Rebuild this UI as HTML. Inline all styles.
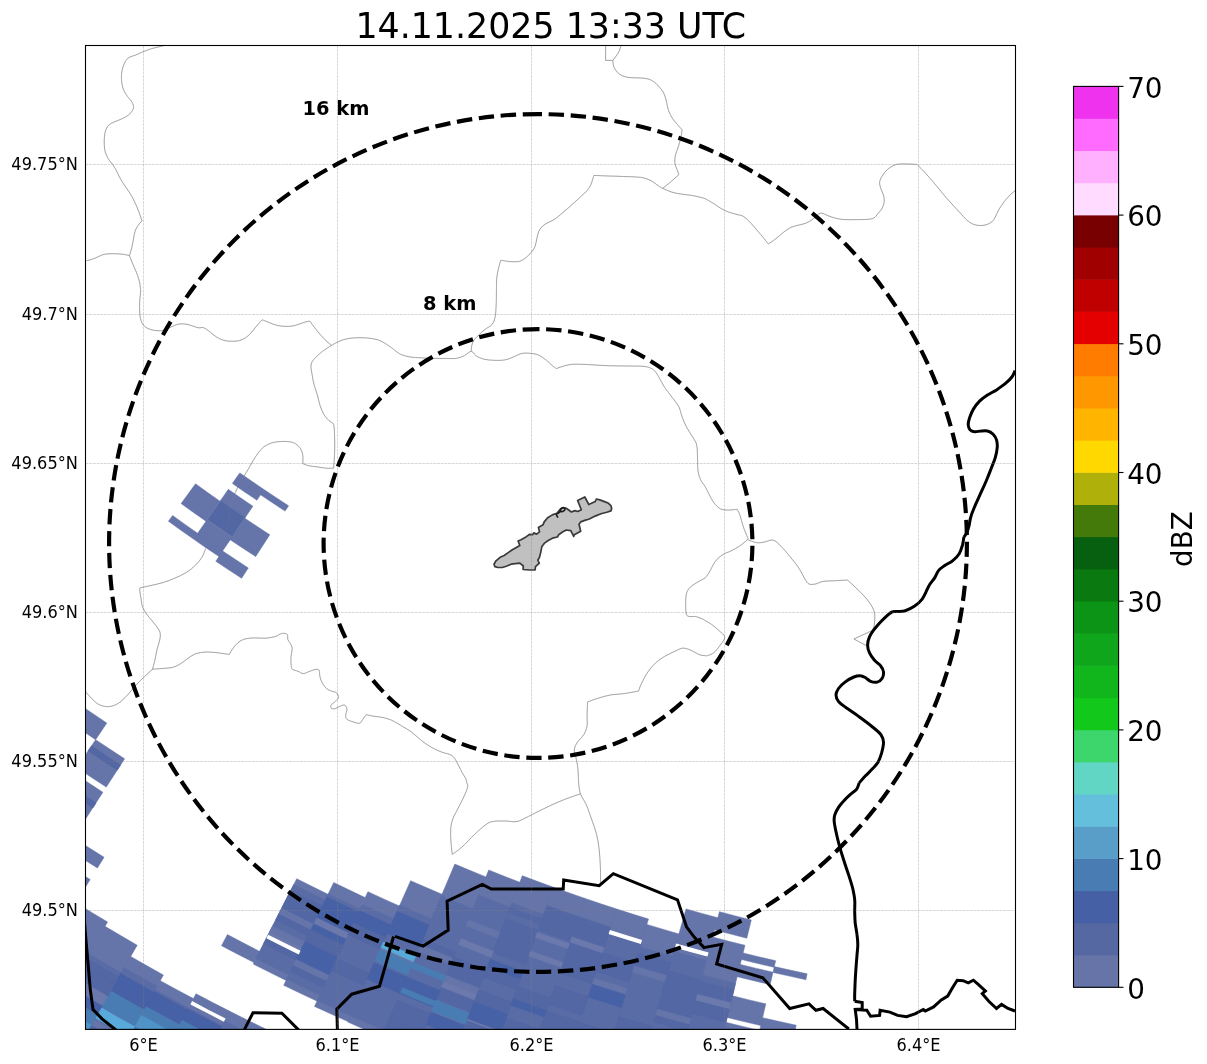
<!DOCTYPE html>
<html lang="en">
<head>
<meta charset="utf-8">
<title>14.11.2025 13:33 UTC</title>
<style>
html,body{margin:0;padding:0;background:#fff;}
body{width:1207px;height:1064px;overflow:hidden;}
svg{display:block;will-change:transform;}
text{font-family:"DejaVu Sans","Liberation Sans",sans-serif;fill:#000;}
.tk{font-size:16.67px;}
.cb{font-size:27.8px;}
.grid line{stroke:#808080;stroke-width:0.7;stroke-dasharray:2.9 0.8;opacity:.44}
.thin{fill:none;stroke:#8c8c8c;stroke-width:0.7;stroke-linejoin:round;}
.bord{fill:none;stroke:#000;stroke-width:3.0;stroke-linejoin:miter;stroke-linecap:butt;}
.ring{fill:none;stroke:#000;stroke-width:4.17;stroke-dasharray:15.39 6.66;}
.lbl{font-size:19.4px;font-weight:bold;}
</style>
</head>
<body>
<svg width="1207" height="1064" viewBox="0 0 1207 1064">
<rect x="0" y="0" width="1207" height="1064" fill="#fff"/>
<defs><clipPath id="ax"><rect x="85.5" y="45.5" width="930.0" height="983.9000000000001"/></clipPath></defs>
<g clip-path="url(#ax)">
<g class="thin" id="thin">
<path d="M163.3,45.8 C161.4,46.2 155.2,47.6 151.8,48.6 C148.3,49.6 145.6,50.8 142.8,51.9 C140.0,53.0 137.2,54.4 135.1,55.3 C132.9,56.1 131.4,56.2 129.9,57.1 C128.4,57.9 127.2,58.8 126.1,60.4 C124.9,62.0 123.8,64.5 123.0,66.8 C122.2,69.2 121.7,72.0 121.5,74.5 C121.3,77.1 121.4,79.7 121.7,82.2 C122.1,84.8 122.6,87.6 123.5,89.9 C124.5,92.3 126.1,94.5 127.4,96.4 C128.7,98.2 130.2,99.4 131.2,101.0 C132.3,102.6 133.3,104.5 133.5,106.1 C133.8,107.7 133.3,109.0 132.5,110.5 C131.7,111.9 130.4,113.5 128.7,114.9 C126.9,116.2 124.6,117.5 122.2,118.7 C119.9,119.9 116.7,120.8 114.5,121.8 C112.4,122.8 110.8,123.4 109.4,124.6 C108.0,125.9 106.9,127.3 106.1,129.2 C105.2,131.2 104.8,133.5 104.5,136.2 C104.2,138.8 104.1,142.4 104.3,145.2 C104.4,147.9 104.8,150.5 105.5,152.9 C106.3,155.2 107.3,157.2 108.6,159.3 C109.9,161.3 111.8,163.0 113.2,165.2 C114.7,167.3 115.8,169.7 117.1,172.1 C118.4,174.6 119.5,177.3 121.0,179.8 C122.5,182.4 124.4,185.0 126.1,187.5 C127.8,190.1 129.7,192.7 131.2,195.2 C132.7,197.8 133.8,200.2 135.1,202.9 C136.4,205.7 137.8,208.9 138.9,211.9 C140.1,214.9 141.5,219.4 142.0,220.9 M142.0,220.9 C141.4,221.6 139.3,223.6 138.2,225.3 C137.0,227.0 135.9,228.7 135.1,231.2 C134.3,233.7 133.8,237.4 133.3,240.2 C132.7,243.0 132.4,245.3 131.7,247.9 C131.1,250.4 129.8,254.3 129.4,255.6 M129.4,255.6 C128.4,255.4 125.8,254.6 123.5,254.3 C121.3,254.0 118.4,253.9 115.8,253.8 C113.2,253.7 110.5,253.6 108.1,253.8 C105.8,254.0 103.8,254.3 101.7,255.1 C99.6,255.8 97.4,257.3 95.3,258.1 C93.1,259.0 90.6,259.8 88.9,260.2 C87.1,260.6 85.6,260.6 85.0,260.7 M129.4,255.6 C129.9,256.9 131.4,260.5 132.5,263.3 C133.7,266.1 135.2,269.3 136.4,272.3 C137.5,275.3 138.7,278.1 139.4,281.3 C140.2,284.4 140.5,289.4 140.7,291.0 M605.6,45.8 L605.6,60.4 L612.8,60.4 M621.0,45.8 C620.6,46.9 619.8,50.3 618.4,52.7 C617.1,55.1 613.7,59.1 612.8,60.4 M612.8,60.4 C612.9,61.5 613.1,64.9 613.8,66.8 C614.5,68.8 615.7,70.5 617.1,72.0 C618.5,73.5 620.1,74.9 622.3,75.8 C624.4,76.8 627.2,77.3 630.0,77.6 C632.8,78.0 636.0,77.7 639.0,77.9 C642.0,78.1 645.4,78.2 648.0,78.9 C650.5,79.6 652.2,80.6 654.4,82.2 C656.5,83.9 659.1,86.5 660.8,88.7 C662.5,90.8 663.7,92.7 664.6,95.1 C665.6,97.4 666.1,100.2 666.7,102.8 C667.3,105.3 667.6,107.9 668.5,110.5 C669.4,113.1 670.9,115.8 672.3,118.2 C673.8,120.5 675.9,122.7 677.5,124.6 C679.1,126.5 681.3,128.9 682.1,129.7 M682.1,129.7 C681.9,131.2 681.3,135.7 680.6,138.7 C679.9,141.7 678.9,144.9 678.0,147.7 C677.1,150.5 675.9,152.9 675.4,155.4 C674.9,158.0 674.6,160.6 674.9,163.1 C675.3,165.7 676.8,168.9 677.5,170.8 C678.1,172.8 678.6,174.0 678.8,174.7 M678.8,174.7 L671.1,181.6 L662.8,188.3 M496.4,291.0 C496.5,289.0 496.4,282.5 496.7,278.7 C497.0,274.9 497.8,271.5 498.5,268.4 C499.2,265.3 500.4,261.6 500.8,260.2 M500.8,260.2 C501.8,260.4 504.7,261.0 506.7,261.2 C508.8,261.5 510.9,261.7 513.1,261.7 C515.4,261.7 517.9,261.9 520.1,261.2 C522.2,260.5 524.1,259.1 526.0,257.6 C527.8,256.2 529.6,254.3 531.1,252.5 C532.6,250.7 534.0,248.9 535.0,246.6 C535.9,244.3 536.1,241.5 536.8,238.9 C537.4,236.3 537.8,233.3 538.8,231.2 C539.8,229.0 541.2,227.5 542.7,226.0 C544.2,224.6 545.9,223.8 547.8,222.7 C549.7,221.6 552.1,221.0 554.2,219.6 C556.4,218.3 558.1,216.6 560.6,214.5 C563.2,212.4 566.6,209.4 569.6,206.8 C572.6,204.1 575.8,201.1 578.6,198.6 C581.4,196.0 584.3,193.6 586.3,191.4 C588.3,189.1 589.5,187.4 590.7,185.0 C591.9,182.5 593.0,178.1 593.5,176.5 C594.1,174.9 593.9,175.6 594.0,175.5 M594.0,175.5 C596.4,175.5 603.2,175.8 608.1,176.0 C613.1,176.1 618.8,176.3 623.6,176.5 C628.3,176.7 633.0,176.7 636.4,177.0 C639.8,177.3 641.5,177.3 644.1,178.0 C646.7,178.7 649.5,179.8 651.8,181.1 C654.2,182.4 656.4,184.5 658.2,185.7 C660.1,186.9 660.7,187.3 662.8,188.3 C665.0,189.3 668.2,191.0 671.1,191.9 C673.9,192.8 676.8,193.4 680.1,193.9 C683.3,194.5 687.1,194.7 690.3,195.2 C693.5,195.7 696.9,196.5 699.3,197.0 C701.8,197.6 704.0,198.3 705.0,198.6 M705.0,198.6 C706.3,199.3 710.1,201.4 712.7,202.9 C715.3,204.5 717.8,206.6 720.4,208.1 C723.0,209.6 725.3,210.9 728.1,211.9 C730.9,213.0 734.5,213.7 737.1,214.5 C739.7,215.3 741.2,215.0 743.5,216.5 C745.9,218.0 748.7,220.8 751.2,223.5 C753.8,226.1 756.6,229.7 758.9,232.5 C761.3,235.2 763.8,238.2 765.3,240.2 C766.9,242.1 767.9,243.4 768.4,244.0 M768.4,244.0 C769.6,243.2 773.1,240.8 775.6,238.9 C778.1,237.0 780.8,234.4 783.3,232.5 C785.9,230.5 788.2,228.6 791.0,227.3 C793.8,226.0 797.4,225.5 800.0,224.8 C802.6,224.0 804.3,223.9 806.4,223.0 C808.6,222.0 810.9,220.5 812.9,219.1 C814.8,217.7 816.5,215.5 818.0,214.5 C819.5,213.5 820.1,213.0 821.8,213.2 C823.6,213.4 825.9,214.9 828.3,215.8 C830.6,216.6 833.2,217.7 836.0,218.3 C838.8,219.0 841.5,219.4 845.0,219.6 C848.4,219.8 852.9,219.7 856.5,219.6 C860.2,219.6 863.9,219.6 866.8,219.4 C869.7,219.1 871.8,219.1 873.7,218.1 C875.6,217.1 876.9,214.9 878.3,213.2 C879.8,211.5 881.2,210.0 882.2,208.1 C883.2,206.1 884.0,203.8 884.3,201.7 C884.5,199.5 884.0,197.4 883.5,195.2 C882.9,193.1 881.6,191.0 880.9,188.8 C880.3,186.7 879.4,184.5 879.6,182.4 C879.8,180.3 880.9,178.1 882.2,176.0 C883.5,173.8 885.2,171.4 887.3,169.6 C889.5,167.7 892.5,165.9 895.0,164.9 C897.6,164.0 899.1,164.0 902.7,163.9 C906.4,163.8 914.5,164.3 916.9,164.4 M916.9,164.4 C917.9,165.5 920.5,167.8 923.3,170.8 C926.1,173.8 929.7,177.9 933.6,182.4 C937.4,186.9 942.1,192.9 946.4,197.8 C950.7,202.7 955.8,208.2 959.2,211.9 C962.7,215.6 964.6,218.1 966.9,220.1 C969.3,222.2 971.2,223.4 973.4,224.3 C975.5,225.1 977.6,225.4 979.8,225.5 C981.9,225.6 984.1,225.4 986.2,224.8 C988.3,224.1 990.6,223.0 992.1,221.7 C993.6,220.4 994.0,219.1 995.2,217.1 C996.3,215.0 997.5,211.9 999.0,209.4 C1000.5,206.8 1002.3,204.1 1004.2,201.7 C1006.1,199.2 1008.8,196.3 1010.6,194.5 C1012.4,192.7 1014.2,191.5 1015.0,190.9 M140.7,291.0 C140.6,292.7 139.9,297.8 139.7,301.3 C139.5,304.7 139.5,308.3 139.7,311.5 C139.9,314.8 140.2,318.1 141.0,320.5 C141.8,323.0 143.0,324.9 144.6,326.4 C146.2,327.9 148.2,328.8 150.5,329.5 C152.8,330.2 155.8,330.7 158.2,330.8 C160.5,330.9 162.5,330.7 164.6,330.0 C166.7,329.4 168.9,327.9 171.0,327.0 C173.2,326.0 175.3,324.9 177.4,324.4 C179.6,323.9 181.7,323.7 183.9,323.9 C186.0,324.0 187.9,324.5 190.3,325.2 C192.6,325.8 195.8,327.3 198.0,327.7 C200.2,328.2 201.7,327.1 203.6,327.7 C205.6,328.4 207.5,330.1 209.6,331.6 C211.6,333.1 213.6,335.3 216.0,336.7 C218.3,338.2 220.9,339.5 223.7,340.3 C226.5,341.1 229.7,341.4 232.7,341.3 C235.7,341.2 238.9,340.9 241.7,339.8 C244.4,338.7 247.0,336.8 249.4,334.7 C251.7,332.5 253.6,329.4 255.8,327.0 C257.9,324.5 261.1,321.0 262.2,319.8 M262.2,319.8 C263.3,320.2 266.3,321.4 268.6,322.3 C271.0,323.2 273.5,324.5 276.3,325.2 C279.1,325.8 282.3,326.4 285.3,326.4 C288.3,326.5 291.3,326.3 294.3,325.7 C297.3,325.0 300.7,323.4 303.3,322.6 C305.9,321.8 308.6,321.3 309.7,321.0 M309.7,321.0 C310.8,322.5 313.8,326.6 316.1,329.5 C318.5,332.4 321.3,335.9 323.8,338.5 C326.4,341.2 330.2,344.3 331.5,345.4 M331.5,345.4 C330.0,346.4 325.3,349.2 322.5,351.3 C319.8,353.5 316.8,356.0 314.8,358.3 C312.9,360.6 311.4,362.0 311.0,365.0 C310.6,367.9 311.8,372.5 312.3,375.7 C312.8,379.0 313.2,381.5 314.1,384.7 C314.9,387.9 316.4,391.6 317.4,395.0 C318.4,398.4 318.9,402.1 320.0,405.3 C321.0,408.5 322.3,411.7 323.8,414.3 C325.3,416.8 327.3,419.0 329.0,420.7 C330.6,422.4 332.6,421.8 333.6,424.5 C334.5,427.3 334.4,432.7 334.6,437.4 C334.8,442.1 334.8,447.7 334.6,452.8 C334.4,457.9 333.8,465.6 333.6,468.2 M333.6,468.2 C332.4,468.2 329.1,468.4 326.4,468.2 C323.7,468.0 320.4,467.3 317.4,466.9 C314.4,466.5 310.9,466.2 308.4,465.6 C306.0,465.1 303.7,463.9 302.8,463.6 M302.8,463.6 C302.8,462.2 303.1,457.8 302.8,455.4 C302.4,452.9 301.9,450.9 300.7,448.9 C299.5,447.0 297.5,445.0 295.6,443.8 C293.7,442.6 291.7,442.1 289.2,441.7 C286.6,441.4 283.2,441.3 280.2,441.5 C277.2,441.7 274.0,442.1 271.2,443.0 C268.4,444.0 265.6,445.5 263.5,447.1 C261.3,448.8 260.1,450.6 258.3,452.8 C256.6,455.0 254.9,457.7 253.2,460.5 C251.5,463.3 249.6,466.9 248.1,469.5 C246.6,472.0 245.7,473.3 244.2,475.9 C242.7,478.5 240.6,482.1 239.1,484.9 C237.6,487.7 236.5,489.8 235.2,492.6 C233.9,495.4 232.4,498.4 231.4,501.6 C230.3,504.8 229.0,508.6 228.8,511.9 C228.6,515.1 230.5,517.8 230.1,520.8 C229.7,523.8 226.9,528.3 226.2,529.8 M331.5,345.4 C332.6,344.8 335.4,343.0 338.0,341.8 C340.5,340.7 343.7,339.5 346.9,338.8 C350.2,338.1 353.8,337.9 357.2,337.7 C360.6,337.6 364.1,337.7 367.5,338.0 C370.9,338.3 374.8,338.9 377.8,339.8 C380.8,340.7 383.1,342.3 385.5,343.6 C387.8,345.0 390.3,346.9 391.9,348.0 C393.5,349.2 394.5,350.2 395.0,350.6 M496.4,291.0 C496.4,293.1 496.4,299.6 496.2,303.8 C496.0,308.1 495.8,313.3 495.2,316.7 C494.5,320.1 493.8,322.2 492.1,324.4 C490.4,326.5 487.2,327.7 484.9,329.5 C482.6,331.3 480.4,333.2 478.5,335.2 C476.5,337.1 474.5,339.1 473.3,341.1 C472.2,343.0 471.9,345.3 471.5,347.0 C471.2,348.7 471.3,350.6 471.3,351.3 M395.0,350.6 C396.1,351.3 398.9,353.6 401.4,354.7 C404.0,355.8 407.2,356.5 410.4,357.0 C413.6,357.5 417.0,357.6 420.7,357.8 C424.3,358.0 428.0,358.2 432.2,358.3 C436.5,358.4 442.3,358.5 446.4,358.5 C450.4,358.5 453.6,358.8 456.6,358.3 C459.6,357.8 461.9,356.9 464.3,355.7 C466.8,354.6 469.3,351.3 471.3,351.3 C473.2,351.3 473.8,354.4 475.9,355.7 C477.9,357.0 480.6,358.3 483.6,359.1 C486.6,359.8 490.2,360.2 493.9,360.3 C497.5,360.5 502.0,360.5 505.4,359.8 C508.9,359.2 511.6,357.6 514.4,356.5 C517.2,355.4 519.3,353.9 522.1,353.4 C524.9,352.9 528.3,353.1 531.1,353.4 C533.9,353.7 536.2,354.0 538.8,355.2 C541.4,356.4 544.3,358.6 546.5,360.3 C548.7,362.0 550.5,364.1 552.2,365.5 C553.8,366.8 555.6,368.0 556.3,368.6 M556.3,368.6 C557.9,368.0 562.7,366.2 565.8,365.5 C568.9,364.7 570.7,364.3 574.8,364.2 C578.8,364.1 584.6,364.4 590.2,364.7 C595.7,365.0 602.2,365.5 608.1,365.7 C614.1,365.9 620.6,365.9 626.1,366.0 C631.7,366.1 637.7,366.0 641.5,366.2 C645.4,366.5 647.0,366.7 649.2,367.5 C651.5,368.3 653.2,369.3 654.9,371.1 C656.6,372.9 657.9,375.6 659.5,378.3 C661.1,381.0 662.5,384.1 664.6,387.3 C666.8,390.5 670.0,394.4 672.3,397.6 C674.7,400.8 677.1,403.4 678.8,406.6 C680.4,409.8 680.8,413.4 682.1,416.8 C683.4,420.3 684.7,423.7 686.5,427.1 C688.3,430.5 691.2,434.4 692.9,437.4 C694.6,440.4 696.0,441.7 696.7,445.1 C697.5,448.5 697.3,453.6 697.5,457.9 C697.7,462.2 697.5,467.1 698.0,470.8 C698.5,474.4 699.4,477.2 700.6,479.8 C701.8,482.3 704.2,485.1 705.0,486.2 M705.0,486.2 C705.6,487.5 707.4,491.1 708.9,493.9 C710.4,496.7 712.1,500.4 714.0,502.9 C715.9,505.3 718.1,507.6 720.4,508.8 C722.8,510.0 725.3,510.0 728.1,510.1 C730.9,510.1 735.6,509.4 737.1,509.3 M737.1,509.3 C737.5,510.1 738.6,511.4 739.7,514.4 C740.7,517.4 742.2,523.5 743.5,527.3 C744.8,531.0 746.7,535.4 747.4,537.0 M205.7,548.6 C205.1,550.1 203.6,554.8 201.8,557.5 C200.1,560.3 198.0,562.8 195.4,565.2 C192.9,567.7 189.9,570.3 186.4,572.4 C183.0,574.6 178.7,576.4 174.9,578.1 C171.0,579.8 167.2,581.3 163.3,582.5 C159.5,583.7 155.6,584.4 151.8,585.3 C147.9,586.2 142.1,587.4 140.2,587.8 M140.2,587.8 C140.1,588.1 139.6,587.8 139.7,589.6 C139.8,591.4 140.5,595.6 141.0,598.6 C141.5,601.6 141.8,605.1 142.8,607.6 C143.7,610.2 145.1,611.9 146.6,614.0 C148.1,616.2 150.1,618.3 151.8,620.5 C153.5,622.6 155.5,624.7 156.9,626.9 C158.3,629.0 159.8,630.9 160.2,633.3 C160.7,635.7 160.0,638.2 159.5,641.0 C158.9,643.8 157.7,646.8 156.9,650.0 C156.1,653.2 155.6,657.1 154.9,660.3 C154.1,663.5 152.9,667.8 152.5,669.3 M152.5,669.3 C151.1,670.5 146.8,674.4 144.1,677.0 C141.4,679.5 138.9,681.9 136.4,684.7 C133.8,687.4 131.2,690.9 128.7,693.7 C126.1,696.4 123.5,699.3 121.0,701.4 C118.4,703.4 115.8,704.9 113.2,705.7 C110.7,706.6 108.1,706.8 105.5,706.5 C103.0,706.2 100.2,705.3 97.8,703.9 C95.5,702.6 93.6,700.4 91.4,698.3 C89.3,696.1 86.1,692.3 85.0,691.1 M152.5,669.3 C154.1,669.1 158.7,668.8 162.0,668.5 C165.3,668.2 169.3,668.2 172.3,667.5 C175.3,666.7 177.4,665.6 180.0,664.1 C182.6,662.6 185.2,660.2 187.7,658.5 C190.3,656.8 192.4,654.9 195.4,653.8 C198.4,652.8 202.3,652.3 205.7,652.0 C209.1,651.8 212.8,652.3 216.0,652.6 C219.2,652.9 222.7,653.5 225.0,653.8 C227.2,654.1 228.6,654.3 229.3,654.4 M229.3,654.4 C229.9,653.4 231.3,650.6 232.7,648.7 C234.1,646.8 235.9,644.4 237.8,642.8 C239.7,641.2 241.7,640.0 244.2,639.2 C246.8,638.4 249.8,638.1 253.2,637.9 C256.6,637.8 261.1,638.4 264.8,638.2 C268.4,638.0 272.5,637.3 275.0,636.6 C277.6,636.0 278.7,634.6 280.2,634.1 C281.7,633.5 282.8,633.2 284.0,633.3 C285.2,633.4 286.7,633.5 287.4,634.6 C288.0,635.7 287.4,638.2 287.9,639.7 C288.4,641.2 289.7,642.1 290.4,643.6 C291.2,645.1 292.2,646.6 292.2,648.7 C292.3,650.9 291.1,653.6 291.0,656.4 C290.8,659.2 291.0,663.3 291.2,665.4 C291.5,667.5 291.3,668.3 292.5,669.3 C293.7,670.2 296.4,670.6 298.1,671.3 C299.9,672.0 301.4,673.6 303.3,673.6 C305.2,673.6 307.6,672.0 309.7,671.3 C311.8,670.6 314.5,669.4 316.1,669.3 C317.7,669.1 318.6,669.3 319.2,670.5 C319.8,671.8 319.4,674.8 320.0,677.0 C320.5,679.1 321.5,681.5 322.5,683.4 C323.6,685.3 324.9,687.2 326.4,688.5 C327.9,689.8 329.8,690.4 331.5,691.1 C333.2,691.8 335.5,691.8 336.7,692.9 C337.8,694.0 338.7,696.1 338.5,697.5 C338.3,698.9 336.6,700.1 335.4,701.4 C334.1,702.6 331.7,704.0 331.0,705.2 C330.4,706.4 330.8,708.0 331.5,708.5 C332.3,709.1 333.9,709.0 335.4,708.5 C336.9,708.1 338.9,706.5 340.5,706.0 C342.1,705.4 343.8,704.7 344.9,705.2 C346.0,705.7 346.8,707.3 346.9,709.1 C347.1,710.8 345.7,713.8 345.7,715.5 C345.7,717.2 345.7,718.3 346.9,719.3 C348.2,720.4 351.2,721.3 353.4,721.9 C355.5,722.5 358.1,723.8 359.8,723.2 C361.5,722.5 362.6,719.5 363.6,718.0 C364.7,716.6 365.8,715.3 366.2,714.7 M366.2,714.7 C367.3,714.9 369.8,715.5 372.6,716.0 C375.4,716.5 379.9,716.9 382.9,717.5 C385.9,718.2 388.6,719.1 390.6,719.8 C392.6,720.6 394.2,721.6 395.0,721.9 M395.0,721.9 C396.3,722.7 399.9,724.8 402.7,726.5 C405.5,728.2 408.7,729.9 411.7,732.2 C414.7,734.4 417.5,737.4 420.7,739.9 C423.9,742.4 427.5,745.1 431.0,747.1 C434.4,749.1 437.8,750.6 441.2,751.9 C444.6,753.3 448.9,753.7 451.5,755.3 C454.1,756.9 454.9,758.9 456.6,761.7 C458.3,764.5 460.3,769.2 461.8,772.0 C463.3,774.8 464.8,776.6 465.6,778.4 C466.5,780.2 466.7,782.2 466.9,783.0 M578.6,783.0 C578.5,780.5 578.3,772.3 577.8,768.1 C577.4,763.9 576.6,760.8 576.0,757.9 C575.4,754.9 574.0,752.7 574.3,750.1 C574.5,747.6 575.7,745.0 577.3,742.4 C578.9,739.9 582.1,737.5 583.8,734.7 C585.4,732.0 586.5,729.2 587.1,725.8 C587.6,722.3 587.0,718.2 587.1,714.2 C587.2,710.2 587.5,703.9 587.6,701.9 M587.6,701.9 C589.3,701.3 594.0,699.4 597.9,698.3 C601.7,697.1 606.4,695.7 610.7,694.9 C615.0,694.2 618.9,694.3 623.6,693.7 C628.2,693.0 636.0,691.5 638.5,691.1 M638.5,691.1 C639.0,689.8 639.9,686.6 641.5,683.4 C643.1,680.2 645.6,675.2 648.0,671.8 C650.3,668.4 652.9,665.4 655.7,662.8 C658.4,660.3 661.4,658.3 664.6,656.4 C667.9,654.5 671.9,652.6 674.9,651.3 C677.9,649.9 680.1,648.4 682.6,648.2 C685.2,648.0 687.5,648.9 690.3,650.0 C693.1,651.1 696.9,653.7 699.3,654.6 C701.8,655.6 704.0,655.5 705.0,655.6 M705.0,578.1 C703.8,578.7 700.5,580.4 698.0,581.9 C695.6,583.4 692.3,585.2 690.3,587.1 C688.4,589.0 687.2,590.9 686.5,593.5 C685.7,596.1 685.8,599.5 685.7,602.5 C685.6,605.5 685.6,609.2 686.0,611.5 C686.3,613.7 686.2,615.2 687.8,616.1 C689.3,617.0 693.1,616.2 695.5,616.6 C697.8,617.0 700.3,618.0 701.9,618.7 C703.5,619.3 704.5,620.2 705.0,620.5 M747.4,537.0 C747.4,537.4 748.7,538.1 747.4,539.6 C746.1,541.1 742.5,544.1 739.7,546.0 C736.9,547.9 733.5,549.7 730.7,551.1 C727.9,552.5 725.5,552.8 723.0,554.5 C720.4,556.2 717.6,558.3 715.3,561.4 C712.9,564.5 710.6,570.2 708.9,573.0 C707.1,575.7 705.6,577.2 705.0,578.1 M747.4,539.6 C748.9,540.1 753.6,542.2 756.4,542.6 C759.1,543.1 761.3,542.6 764.1,542.1 C766.8,541.7 770.3,539.4 773.1,540.1 C775.8,540.7 778.0,543.3 780.8,546.0 C783.5,548.7 786.7,552.6 789.7,556.3 C792.7,559.9 796.2,564.0 798.7,567.8 C801.3,571.7 803.4,576.7 805.2,579.4 C806.9,582.1 807.3,583.2 809.0,584.0 C810.7,584.8 813.1,584.4 815.4,584.0 C817.8,583.6 819.7,582.0 823.1,581.4 C826.6,580.9 831.9,580.9 836.0,580.7 C840.0,580.4 845.6,580.2 847.5,580.1 M847.5,580.1 C848.8,581.3 852.4,584.4 855.2,587.1 C858.0,589.7 861.7,593.2 864.2,596.1 C866.8,598.9 868.9,601.5 870.6,604.3 C872.4,607.1 873.8,609.6 874.5,612.8 C875.1,615.9 874.7,620.2 874.5,623.0 C874.3,625.9 873.4,628.8 873.2,630.0 M873.2,630.0 L853.9,639.0 L867.3,646.1 M705.0,620.5 C706.1,621.1 709.1,622.6 711.4,624.3 C713.8,626.0 716.9,628.6 719.1,630.7 C721.3,632.9 724.6,634.8 724.8,637.2 C725.0,639.5 722.2,642.3 720.4,644.9 C718.6,647.4 716.1,650.8 714.0,652.6 C711.8,654.4 709.1,655.1 707.6,655.6 C706.1,656.2 705.4,655.6 705.0,655.6 M466.9,783.0 C467.0,783.6 468.1,784.7 467.7,786.9 C467.2,789.0 466.0,792.2 464.3,795.8 C462.7,799.5 459.8,804.8 457.9,808.7 C456.0,812.5 454.0,815.5 452.8,819.0 C451.6,822.4 451.0,825.4 450.7,829.2 C450.4,833.1 450.7,837.9 451.0,842.1 C451.2,846.3 452.1,852.3 452.3,854.4 M452.3,854.4 C453.9,853.2 458.0,850.5 461.8,847.2 C465.5,843.9 470.8,838.0 474.6,834.4 C478.5,830.7 481.9,827.5 484.9,825.4 C487.9,823.2 489.2,822.2 492.6,821.5 C496.0,820.8 501.4,821.0 505.4,821.0 C509.5,821.0 513.1,822.3 517.0,821.5 C520.8,820.8 524.0,818.5 528.5,816.4 C533.0,814.2 538.4,811.3 543.9,808.7 C549.5,806.0 555.8,802.9 561.9,800.5 C568.0,798.0 577.3,794.9 580.4,793.8 M578.6,783.0 C578.9,784.8 579.1,790.1 580.4,793.8 C581.7,797.4 584.5,800.6 586.3,804.8 C588.2,809.0 589.7,814.0 591.5,819.0 C593.2,823.9 595.3,829.2 596.6,834.4 C597.9,839.5 598.5,844.2 599.2,849.8 C599.8,855.3 600.2,862.0 600.4,867.7 C600.7,873.5 600.4,881.7 600.4,884.4"/>
</g>
<g id="radar">
<path fill="#6574a9" stroke="#6574a9" stroke-width="0.5" d="M288.6,505.8L276.3,497.7L264.0,489.6L251.9,481.3L239.8,472.9L236.1,478.1L248.3,486.5L260.5,494.8L272.8,503.0L285.1,511.1ZM260.5,494.8L248.3,486.5L236.1,478.1L232.4,483.4L244.6,491.9L256.9,500.2ZM252.9,506.2L240.5,497.8L228.3,489.3L220.6,500.4L232.9,508.9L245.3,517.4Z"/>
<path fill="#5267a4" stroke="#5267a4" stroke-width="0.5" d="M245.3,517.4L232.9,508.9L220.6,500.4L207.1,519.7L219.6,528.3L232.2,536.9Z"/>
<path fill="#6574a9" stroke="#6574a9" stroke-width="0.5" d="M220.0,501.2L207.7,492.6L195.5,483.8L181.1,503.6L193.5,512.5L206.0,521.3ZM269.8,534.7L257.2,526.5L244.8,518.2L230.2,539.8L242.9,548.2L255.7,556.6ZM232.2,536.9L219.6,528.3L207.1,519.7L197.6,533.3L210.2,542.0L222.9,550.6ZM222.9,550.6L210.2,542.0L197.6,533.3L185.0,524.4L172.6,515.4L168.4,521.2L180.9,530.2L193.5,539.1L206.2,547.9L219.0,556.5ZM248.3,567.9L235.5,559.5L222.7,551.0L215.8,561.3L228.6,569.8L241.6,578.3ZM106.8,723.1L92.6,713.4L78.5,703.7L67.0,720.1L81.3,729.9L95.6,739.7ZM124.6,758.8L110.1,749.3L95.6,739.7L76.8,767.6L91.5,777.4L106.3,787.1Z"/>
<path fill="#5267a4" stroke="#5267a4" stroke-width="0.5" d="M120.5,765.1L105.9,755.6L91.5,745.9L88.1,750.9L102.6,760.6L117.2,770.1Z"/>
<path fill="#6574a9" stroke="#6574a9" stroke-width="0.5" d="M102.9,792.3L88.1,782.6L73.4,772.8L55.9,798.7L70.8,808.7L85.9,818.5Z"/>
<path fill="#5267a4" stroke="#5267a4" stroke-width="0.5" d="M96.0,802.9L81.1,793.1L66.3,783.2L63.0,788.2L77.8,798.1L92.8,807.9Z"/>
<path fill="#6574a9" stroke="#6574a9" stroke-width="0.5" d="M104.1,857.3L88.7,847.6L73.4,837.8L66.6,848.3L81.9,858.2L97.4,868.0ZM90.2,879.5L74.6,869.7L59.2,859.8L53.4,868.6L68.9,878.6L84.6,888.5ZM75.8,902.6L60.0,892.6L44.4,882.6L-99.8,1104.9L-82.2,1116.3L-64.4,1127.4ZM107.6,922.0L91.7,912.4L75.8,902.6L-64.4,1127.4L-46.6,1138.4L-28.7,1149.3ZM137.2,945.2L121.1,935.8L105.0,926.3L-28.7,1149.3L-10.7,1160.0L7.4,1170.5ZM163.4,975.0L147.0,965.8L130.7,956.5L7.4,1170.5L25.6,1180.9L43.9,1191.1ZM193.4,998.6L176.8,989.7L160.3,980.7L43.9,1191.1L62.3,1201.2L80.7,1211.1ZM229.4,1011.1L212.7,1002.5L196.0,993.8L80.7,1211.1L99.3,1220.8L117.9,1230.4ZM263.0,1027.8L246.2,1019.5L229.4,1011.1L117.9,1230.4L136.6,1239.8L155.4,1249.0ZM297.0,1044.0L280.0,1036.0L263.0,1027.8L155.4,1249.0L174.3,1258.1L193.2,1267.0ZM328.0,894.3L312.3,886.6L296.7,878.7L253.3,964.1L269.6,972.3L286.1,980.4ZM365.1,897.6L349.4,890.1L333.7,882.6L283.7,985.3L300.3,993.3L316.9,1001.1ZM399.4,906.0L383.6,898.9L367.9,891.7L314.5,1006.4L331.2,1014.1L348.1,1021.6ZM442.0,894.3L426.3,887.6L410.6,880.7L347.9,1022.1L364.7,1029.5L381.7,1036.7ZM485.9,876.9L470.3,870.6L454.8,864.1L269.8,1301.0L289.1,1309.1L308.5,1317.0ZM519.8,882.2L504.2,876.2L488.7,870.0L308.5,1317.0L327.9,1324.8L347.5,1332.3ZM553.6,887.3L537.9,881.6L522.3,875.7L347.5,1332.3L367.1,1339.7L386.7,1347.0ZM585.0,898.4L569.3,892.9L553.6,887.3L386.7,1347.0L406.4,1354.0L426.2,1360.9ZM616.7,909.0L600.8,903.8L585.0,898.4L426.2,1360.9L446.1,1367.6L466.0,1374.2ZM648.5,919.0L632.5,914.1L616.7,909.0L466.0,1374.2L485.9,1380.5L505.9,1386.7ZM678.9,933.9L662.8,929.2L646.8,924.4L505.9,1386.7L526.0,1392.8L546.1,1398.6ZM717.8,917.7L701.9,913.4L686.0,908.9L546.1,1398.6L566.2,1404.3L586.5,1409.8ZM259.7,951.4L243.5,943.0L227.4,934.6L221.5,945.7L237.7,954.2L254.0,962.6ZM751.3,919.9L735.4,915.9L719.4,911.7L714.6,929.9L730.7,934.1L746.8,938.2ZM745.0,945.3L728.8,941.3L712.7,937.0L586.5,1409.8L606.7,1415.1L627.0,1420.2ZM775.7,960.7L759.4,956.9L743.1,952.9L741.5,959.5L757.8,963.5L774.1,967.3ZM773.0,972.2L756.6,968.4L740.3,964.4L737.2,976.7L753.7,980.7L770.2,984.6ZM765.8,1003.8L749.1,999.9L732.4,995.8L727.1,1017.5L743.9,1021.6L760.8,1025.5ZM759.6,1030.4L742.7,1026.4L725.9,1022.3L627.0,1420.2L647.4,1425.2L667.8,1430.0ZM807.1,973.8L790.7,970.2L774.3,966.6L773.0,972.4L789.4,976.1L805.9,979.7ZM796.2,1025.2L779.4,1021.5L762.6,1017.7L667.8,1430.0L688.2,1434.6L708.7,1439.0Z"/>
<path fill="#5a6ca6" stroke="#5a6ca6" stroke-width="0.5" d="M325.2,900.1L309.4,892.4L293.7,884.5L256.1,958.5L272.5,966.7L288.9,974.8ZM359.8,908.9L344.0,901.4L328.2,893.8L286.7,979.3L303.2,987.2L319.8,995.0ZM393.7,918.8L377.8,911.6L361.9,904.4L317.2,1000.5L333.9,1008.1L350.7,1015.7ZM431.6,918.9L415.7,912.1L399.8,905.1L350.7,1015.7L367.5,1023.1L384.4,1030.3ZM473.0,908.9L457.1,902.5L441.3,895.9L269.8,1301.0L289.1,1309.1L308.5,1317.0ZM510.2,907.4L494.3,901.3L478.6,895.0L308.5,1317.0L327.9,1324.8L347.5,1332.3ZM543.7,914.6L527.8,908.7L511.9,902.8L347.5,1332.3L367.1,1339.7L386.7,1347.0ZM578.8,916.4L562.9,910.9L547.1,905.2L386.7,1347.0L406.4,1354.0L426.2,1360.9ZM610.8,927.1L594.8,921.8L578.8,916.4L426.2,1360.9L446.1,1367.6L466.0,1374.2ZM640.9,943.9L624.7,938.9L608.6,933.7L466.0,1374.2L485.9,1380.5L505.9,1386.7ZM672.5,956.3L656.2,951.6L640.0,946.7L505.9,1386.7L526.0,1392.8L546.1,1398.6ZM706.4,960.5L690.1,956.1L673.9,951.5L546.1,1398.6L566.2,1404.3L586.5,1409.8ZM735.5,983.5L719.0,979.3L702.5,975.0L586.5,1409.8L606.7,1415.1L627.0,1420.2ZM758.5,1035.3L741.6,1031.3L724.7,1027.2L627.0,1420.2L647.4,1425.2L667.8,1430.0ZM88.6,953.7L72.3,943.9L56.2,934.0L-64.4,1127.4L-46.6,1138.4L-28.7,1149.3ZM121.2,973.0L104.9,963.4L88.6,953.7L-28.7,1149.3L-10.7,1160.0L7.4,1170.5ZM157.2,986.3L140.7,977.1L124.2,967.8L7.4,1170.5L25.6,1180.9L43.9,1191.1ZM188.5,1007.9L171.8,998.9L155.2,989.8L43.9,1191.1L62.3,1201.2L80.7,1211.1ZM222.1,1025.3L205.3,1016.7L188.5,1007.9L80.7,1211.1L99.3,1220.8L117.9,1230.4ZM292.3,1054.0L275.2,1045.9L258.2,1037.7L241.3,1029.4L224.4,1020.9L117.9,1230.4L136.6,1239.8L155.4,1249.0L174.3,1258.1L193.2,1267.0Z"/>
<path fill="#5267a4" stroke="#5267a4" stroke-width="0.5" d="M322.3,906.1L306.5,898.3L290.7,890.4L284.7,902.3L300.5,910.3L316.4,918.1ZM316.4,918.1L300.5,910.3L284.7,902.3L281.7,908.2L297.6,916.2L313.5,924.1Z"/>
<path fill="#6574a9" stroke="#6574a9" stroke-width="0.5" d="M313.5,924.1L297.6,916.2L281.7,908.2L278.7,914.1L294.6,922.2L310.6,930.0Z"/>
<path fill="#5267a4" stroke="#5267a4" stroke-width="0.5" d="M310.6,930.0L294.6,922.2L278.7,914.1L275.7,920.1L291.6,928.1L307.7,936.0Z"/>
<path fill="#6574a9" stroke="#6574a9" stroke-width="0.5" d="M304.8,942.0L288.7,934.1L272.6,926.0L269.6,931.9L285.7,940.0L301.9,948.0Z"/>
<path fill="#6b79ad" stroke="#6b79ad" stroke-width="0.5" d="M301.9,948.0L285.7,940.0L269.6,931.9L266.6,937.9L282.8,946.0L299.0,954.0Z"/>
<path fill="#5267a4" stroke="#5267a4" stroke-width="0.5" d="M299.0,954.0L282.8,946.0L266.6,937.9L263.6,943.8L279.8,951.9L296.1,959.9Z"/>
<path fill="#4661a5" stroke="#4661a5" stroke-width="0.5" d="M354.2,920.9L338.3,913.4L322.4,905.8L316.6,917.8L332.6,925.5L348.6,933.0Z"/>
<path fill="#6b79ad" stroke="#6b79ad" stroke-width="0.5" d="M348.6,933.0L332.6,925.5L316.6,917.8L313.7,923.7L329.7,931.5L345.8,939.0Z"/>
<path fill="#4661a5" stroke="#4661a5" stroke-width="0.5" d="M345.8,939.0L329.7,931.5L313.7,923.7L310.8,929.7L326.9,937.5L343.0,945.1Z"/>
<path fill="#5267a4" stroke="#5267a4" stroke-width="0.5" d="M343.0,945.1L326.9,937.5L310.8,929.7L305.0,941.7L321.1,949.5L337.4,957.1Z"/>
<path fill="#4661a5" stroke="#4661a5" stroke-width="0.5" d="M337.4,957.1L321.1,949.5L305.0,941.7L299.1,953.6L315.4,961.5L331.8,969.2ZM331.8,969.2L315.4,961.5L299.1,953.6L296.2,959.6L312.6,967.5L329.0,975.2Z"/>
<path fill="#6574a9" stroke="#6574a9" stroke-width="0.5" d="M329.0,975.2L312.6,967.5L296.2,959.6L293.3,965.6L309.7,973.5L326.2,981.2Z"/>
<path fill="#5267a4" stroke="#5267a4" stroke-width="0.5" d="M326.2,981.2L309.7,973.5L293.3,965.6L290.4,971.6L306.9,979.5L323.4,987.3Z"/>
<path fill="#4661a5" stroke="#4661a5" stroke-width="0.5" d="M391.0,924.9L375.0,917.7L359.1,910.4L356.3,916.4L372.3,923.8L388.3,931.0Z"/>
<path fill="#5267a4" stroke="#5267a4" stroke-width="0.5" d="M388.3,931.0L372.3,923.8L356.3,916.4L347.9,934.5L364.0,941.9L380.2,949.2ZM369.4,973.5L353.0,966.1L336.7,958.6L331.1,970.7L347.5,978.2L364.0,985.7Z"/>
<path fill="#4661a5" stroke="#4661a5" stroke-width="0.5" d="M429.0,925.0L413.0,918.2L397.1,911.2L391.7,923.3L407.7,930.4L423.8,937.2Z"/>
<path fill="#5267a4" stroke="#5267a4" stroke-width="0.5" d="M416.0,955.6L399.8,948.7L383.6,941.6L380.9,947.6L397.1,954.8L413.4,961.7Z"/>
<path fill="#6574a9" stroke="#6574a9" stroke-width="0.5" d="M413.4,961.7L397.1,954.8L380.9,947.6L378.2,953.7L394.5,960.9L410.8,967.9ZM403.1,986.2L386.6,979.2L370.1,971.9L367.4,978.0L383.9,985.3L400.5,992.4Z"/>
<path fill="#5267a4" stroke="#5267a4" stroke-width="0.5" d="M455.6,952.1L439.3,945.5L423.2,938.7L420.6,944.8L436.8,951.6L453.1,958.3Z"/>
<path fill="#6574a9" stroke="#6574a9" stroke-width="0.5" d="M453.1,958.3L436.8,951.6L420.6,944.8L418.0,951.0L434.3,957.8L450.6,964.4Z"/>
<path fill="#5267a4" stroke="#5267a4" stroke-width="0.5" d="M430.7,1013.8L413.9,1006.9L397.3,1000.0L389.5,1018.3L406.3,1025.4L423.2,1032.3ZM423.2,1032.3L406.3,1025.4L389.5,1018.3L386.9,1024.5L403.8,1031.5L420.8,1038.4ZM420.8,1038.4L403.8,1031.5L386.9,1024.5L381.7,1036.7L398.7,1043.8L415.8,1050.8ZM408.3,1069.3L391.1,1062.3L373.9,1055.1L366.1,1073.4L383.5,1080.7L400.9,1087.8Z"/>
<path fill="#6574a9" stroke="#6574a9" stroke-width="0.5" d="M400.9,1087.8L383.5,1080.7L366.1,1073.4L363.6,1079.6L380.9,1086.8L398.4,1094.0Z"/>
<path fill="#4661a5" stroke="#4661a5" stroke-width="0.5" d="M398.4,1094.0L380.9,1086.8L363.6,1079.6L361.0,1085.7L378.4,1093.0L395.9,1100.1Z"/>
<path fill="#5267a4" stroke="#5267a4" stroke-width="0.5" d="M388.4,1118.6L370.8,1111.4L353.2,1104.1L345.4,1122.4L363.2,1129.9L381.0,1137.1Z"/>
<path fill="#6b79ad" stroke="#6b79ad" stroke-width="0.5" d="M371.0,1161.8L353.0,1154.4L335.0,1146.9L332.4,1153.0L350.5,1160.6L368.6,1168.0Z"/>
<path fill="#5267a4" stroke="#5267a4" stroke-width="0.5" d="M368.6,1168.0L350.5,1160.6L332.4,1153.0L327.2,1165.3L345.4,1172.9L363.6,1180.3Z"/>
<path fill="#6574a9" stroke="#6574a9" stroke-width="0.5" d="M363.6,1180.3L345.4,1172.9L327.2,1165.3L324.7,1171.4L342.8,1179.0L361.1,1186.5Z"/>
<path fill="#5267a4" stroke="#5267a4" stroke-width="0.5" d="M361.1,1186.5L342.8,1179.0L324.7,1171.4L319.5,1183.7L337.8,1191.3L356.1,1198.8Z"/>
<path fill="#6574a9" stroke="#6574a9" stroke-width="0.5" d="M356.1,1198.8L337.8,1191.3L319.5,1183.7L316.9,1189.8L335.2,1197.5L353.6,1205.0Z"/>
<path fill="#5267a4" stroke="#5267a4" stroke-width="0.5" d="M353.6,1205.0L335.2,1197.5L316.9,1189.8L311.7,1202.0L330.1,1209.8L348.7,1217.3Z"/>
<path fill="#6574a9" stroke="#6574a9" stroke-width="0.5" d="M500.6,932.3L484.6,926.0L468.6,919.7L466.1,925.8L482.2,932.2L498.3,938.5Z"/>
<path fill="#5267a4" stroke="#5267a4" stroke-width="0.5" d="M486.4,969.5L470.0,963.2L453.7,956.7L446.2,975.2L462.7,981.7L479.2,988.2Z"/>
<path fill="#6574a9" stroke="#6574a9" stroke-width="0.5" d="M479.2,988.2L462.7,981.7L446.2,975.2L443.8,981.4L460.3,987.9L476.9,994.4Z"/>
<path fill="#6b79ad" stroke="#6b79ad" stroke-width="0.5" d="M476.9,994.4L460.3,987.9L443.8,981.4L441.3,987.5L457.9,994.1L474.5,1000.6Z"/>
<path fill="#5267a4" stroke="#5267a4" stroke-width="0.5" d="M474.5,1000.6L457.9,994.1L441.3,987.5L436.3,999.9L453.0,1006.5L469.7,1013.0Z"/>
<path fill="#6574a9" stroke="#6574a9" stroke-width="0.5" d="M469.7,1013.0L453.0,1006.5L436.3,999.9L433.8,1006.0L450.6,1012.7L467.4,1019.2ZM467.4,1019.2L450.6,1012.7L433.8,1006.0L431.3,1012.2L448.1,1018.9L465.0,1025.4Z"/>
<path fill="#4661a5" stroke="#4661a5" stroke-width="0.5" d="M465.0,1025.4L448.1,1018.9L431.3,1012.2L426.4,1024.5L443.3,1031.3L460.2,1037.8Z"/>
<path fill="#5267a4" stroke="#5267a4" stroke-width="0.5" d="M450.7,1062.7L433.5,1056.0L416.4,1049.2L411.4,1061.5L428.7,1068.4L446.0,1075.1ZM438.8,1093.7L421.4,1087.0L404.0,1080.0L401.5,1086.2L418.9,1093.2L436.4,1099.9Z"/>
<path fill="#6574a9" stroke="#6574a9" stroke-width="0.5" d="M436.4,1099.9L418.9,1093.2L401.5,1086.2L399.0,1092.4L416.5,1099.3L434.1,1106.2Z"/>
<path fill="#5267a4" stroke="#5267a4" stroke-width="0.5" d="M429.3,1118.6L411.7,1111.7L394.0,1104.7L391.6,1110.9L409.2,1117.9L426.9,1124.8Z"/>
<path fill="#6574a9" stroke="#6574a9" stroke-width="0.5" d="M426.9,1124.8L409.2,1117.9L391.6,1110.9L389.1,1117.1L406.8,1124.1L424.6,1131.0Z"/>
<path fill="#4661a5" stroke="#4661a5" stroke-width="0.5" d="M417.4,1149.6L399.5,1142.7L381.6,1135.6L379.1,1141.7L397.1,1148.9L415.1,1155.8Z"/>
<path fill="#5267a4" stroke="#5267a4" stroke-width="0.5" d="M407.9,1174.5L389.8,1167.4L371.7,1160.2L369.2,1166.4L387.3,1173.6L405.5,1180.7Z"/>
<path fill="#4661a5" stroke="#4661a5" stroke-width="0.5" d="M393.7,1211.7L375.2,1204.6L356.8,1197.2L354.3,1203.4L372.7,1210.8L391.3,1217.9Z"/>
<path fill="#5267a4" stroke="#5267a4" stroke-width="0.5" d="M391.3,1217.9L372.7,1210.8L354.3,1203.4L349.3,1215.7L367.9,1223.1L386.5,1230.4Z"/>
<path fill="#4661a5" stroke="#4661a5" stroke-width="0.5" d="M386.5,1230.4L367.9,1223.1L349.3,1215.7L344.3,1228.1L363.0,1235.5L381.8,1242.8Z"/>
<path fill="#5267a4" stroke="#5267a4" stroke-width="0.5" d="M534.6,939.6L518.5,933.7L502.4,927.6L495.3,946.2L511.5,952.4L527.8,958.3ZM527.8,958.3L511.5,952.4L495.3,946.2L492.9,952.4L509.2,958.6L525.5,964.6ZM521.0,977.1L504.5,971.0L488.2,964.9L483.4,977.3L499.9,983.5L516.4,989.6ZM511.9,1002.1L495.3,996.0L478.7,989.7L473.9,1002.1L490.6,1008.4L507.4,1014.6Z"/>
<path fill="#6b79ad" stroke="#6b79ad" stroke-width="0.5" d="M502.8,1027.1L486.0,1020.9L469.1,1014.5L466.8,1020.7L483.6,1027.1L500.6,1033.3Z"/>
<path fill="#5267a4" stroke="#5267a4" stroke-width="0.5" d="M500.6,1033.3L483.6,1027.1L466.8,1020.7L462.0,1033.2L479.0,1039.6L496.0,1045.9ZM496.0,1045.9L479.0,1039.6L462.0,1033.2L459.6,1039.4L476.7,1045.8L493.8,1052.1ZM493.8,1052.1L476.7,1045.8L459.6,1039.4L454.9,1051.8L472.0,1058.3L489.2,1064.6Z"/>
<path fill="#6574a9" stroke="#6574a9" stroke-width="0.5" d="M464.3,1133.4L446.5,1126.8L428.7,1120.1L426.3,1126.3L444.1,1133.0L462.0,1139.6Z"/>
<path fill="#5267a4" stroke="#5267a4" stroke-width="0.5" d="M457.5,1152.1L439.5,1145.5L421.6,1138.7L419.2,1145.0L437.2,1151.7L455.2,1158.4Z"/>
<path fill="#6574a9" stroke="#6574a9" stroke-width="0.5" d="M450.6,1170.9L432.5,1164.2L414.5,1157.4L412.1,1163.6L430.2,1170.4L448.4,1177.1Z"/>
<path fill="#4661a5" stroke="#4661a5" stroke-width="0.5" d="M430.2,1227.1L411.6,1220.3L393.1,1213.3L390.7,1219.5L409.3,1226.5L428.0,1233.4Z"/>
<path fill="#6574a9" stroke="#6574a9" stroke-width="0.5" d="M428.0,1233.4L409.3,1226.5L390.7,1219.5L388.3,1225.7L407.0,1232.7L425.7,1239.6Z"/>
<path fill="#4661a5" stroke="#4661a5" stroke-width="0.5" d="M423.4,1245.9L404.6,1239.0L385.9,1231.9L383.5,1238.1L402.3,1245.2L421.1,1252.1Z"/>
<path fill="#5267a4" stroke="#5267a4" stroke-width="0.5" d="M421.1,1252.1L402.3,1245.2L383.5,1238.1L378.8,1250.5L397.7,1257.7L416.6,1264.6Z"/>
<path fill="#6b79ad" stroke="#6b79ad" stroke-width="0.5" d="M414.3,1270.9L395.3,1263.9L376.4,1256.7L374.0,1263.0L393.0,1270.1L412.1,1277.1Z"/>
<path fill="#4661a5" stroke="#4661a5" stroke-width="0.5" d="M412.1,1277.1L393.0,1270.1L374.0,1263.0L369.3,1275.4L388.4,1282.6L407.5,1289.6Z"/>
<path fill="#5267a4" stroke="#5267a4" stroke-width="0.5" d="M576.7,922.7L560.7,917.1L544.8,911.4L538.0,930.2L554.1,935.9L570.2,941.6ZM550.8,998.2L534.2,992.4L517.6,986.4L513.0,998.9L529.7,1004.9L546.5,1010.7Z"/>
<path fill="#4661a5" stroke="#4661a5" stroke-width="0.5" d="M546.5,1010.7L529.7,1004.9L513.0,998.9L510.8,1005.2L527.5,1011.2L544.3,1017.0Z"/>
<path fill="#5267a4" stroke="#5267a4" stroke-width="0.5" d="M540.0,1029.6L523.1,1023.7L506.2,1017.7L499.4,1036.5L516.4,1042.5L533.5,1048.5Z"/>
<path fill="#4661a5" stroke="#4661a5" stroke-width="0.5" d="M531.3,1054.8L514.2,1048.8L497.2,1042.7L492.6,1055.2L509.8,1061.4L527.0,1067.3ZM520.5,1086.2L503.2,1080.2L485.8,1074.0L483.6,1080.2L500.9,1086.4L518.4,1092.5Z"/>
<path fill="#5267a4" stroke="#5267a4" stroke-width="0.5" d="M516.2,1098.8L498.7,1092.7L481.3,1086.5L476.7,1099.0L494.3,1105.2L511.9,1111.4Z"/>
<path fill="#6b79ad" stroke="#6b79ad" stroke-width="0.5" d="M511.9,1111.4L494.3,1105.2L476.7,1099.0L474.5,1105.2L492.1,1111.5L509.7,1117.7Z"/>
<path fill="#5267a4" stroke="#5267a4" stroke-width="0.5" d="M509.7,1117.7L492.1,1111.5L474.5,1105.2L472.2,1111.5L489.9,1117.8L507.6,1124.0ZM505.4,1130.2L487.7,1124.1L469.9,1117.7L465.4,1130.2L483.2,1136.6L501.1,1142.8Z"/>
<path fill="#4661a5" stroke="#4661a5" stroke-width="0.5" d="M496.8,1155.4L478.8,1149.1L460.9,1142.7L456.3,1155.2L474.4,1161.7L492.5,1168.0ZM492.5,1168.0L474.4,1161.7L456.3,1155.2L454.1,1161.5L472.2,1168.0L490.3,1174.3Z"/>
<path fill="#5267a4" stroke="#5267a4" stroke-width="0.5" d="M481.7,1199.4L463.3,1193.0L445.0,1186.5L438.2,1205.2L456.7,1211.8L475.2,1218.3ZM475.2,1218.3L456.7,1211.8L438.2,1205.2L435.9,1211.5L454.4,1218.1L473.0,1224.6Z"/>
<path fill="#6574a9" stroke="#6574a9" stroke-width="0.5" d="M468.7,1237.2L450.0,1230.7L431.4,1224.0L429.1,1230.2L447.8,1236.9L466.6,1243.5Z"/>
<path fill="#5267a4" stroke="#5267a4" stroke-width="0.5" d="M455.8,1274.9L436.7,1268.3L417.8,1261.5L413.2,1274.0L432.3,1280.8L451.4,1287.5ZM608.7,933.4L592.7,928.1L576.7,922.7L570.2,941.6L586.4,947.0L602.6,952.4ZM602.6,952.4L586.4,947.0L570.2,941.6L565.9,954.1L582.2,959.6L598.5,965.0ZM598.5,965.0L582.2,959.6L565.9,954.1L559.4,973.0L575.9,978.6L592.4,984.0ZM588.3,996.6L571.6,991.2L555.1,985.6L550.8,998.2L567.4,1003.8L584.2,1009.3ZM584.2,1009.3L567.4,1003.8L550.8,998.2L548.6,1004.5L565.3,1010.1L582.1,1015.6ZM580.1,1022.0L563.2,1016.4L546.5,1010.7L540.0,1029.6L556.9,1035.3L573.9,1040.9ZM573.9,1040.9L556.9,1035.3L540.0,1029.6L537.8,1035.9L554.8,1041.7L571.9,1047.3ZM571.9,1047.3L554.8,1041.7L537.8,1035.9L533.5,1048.5L550.6,1054.3L567.8,1059.9Z"/>
<path fill="#4661a5" stroke="#4661a5" stroke-width="0.5" d="M567.8,1059.9L550.6,1054.3L533.5,1048.5L531.3,1054.8L548.5,1060.6L565.7,1066.2Z"/>
<path fill="#6574a9" stroke="#6574a9" stroke-width="0.5" d="M565.7,1066.2L548.5,1060.6L531.3,1054.8L529.2,1061.1L546.4,1066.9L563.7,1072.6Z"/>
<path fill="#5267a4" stroke="#5267a4" stroke-width="0.5" d="M563.7,1072.6L546.4,1066.9L529.2,1061.1L527.0,1067.3L544.3,1073.2L561.6,1078.9Z"/>
<path fill="#6b79ad" stroke="#6b79ad" stroke-width="0.5" d="M561.6,1078.9L544.3,1073.2L527.0,1067.3L524.9,1073.6L542.2,1079.5L559.6,1085.2Z"/>
<path fill="#5267a4" stroke="#5267a4" stroke-width="0.5" d="M557.5,1091.5L540.1,1085.8L522.7,1079.9L518.4,1092.5L535.9,1098.4L553.4,1104.2ZM543.2,1135.8L525.3,1130.0L507.6,1124.0L501.1,1142.8L519.0,1148.9L537.0,1154.8ZM535.0,1161.1L516.9,1155.2L498.9,1149.1L494.6,1161.7L512.7,1167.8L530.9,1173.8ZM530.9,1173.8L512.7,1167.8L494.6,1161.7L492.5,1168.0L510.6,1174.1L528.8,1180.1ZM528.8,1180.1L510.6,1174.1L492.5,1168.0L490.3,1174.3L508.5,1180.4L526.8,1186.4Z"/>
<path fill="#6574a9" stroke="#6574a9" stroke-width="0.5" d="M522.7,1199.1L504.3,1193.1L486.0,1186.9L483.8,1193.1L502.2,1199.4L520.6,1205.4ZM520.6,1205.4L502.2,1199.4L483.8,1193.1L481.7,1199.4L500.1,1205.7L518.6,1211.7Z"/>
<path fill="#5267a4" stroke="#5267a4" stroke-width="0.5" d="M518.6,1211.7L500.1,1205.7L481.7,1199.4L477.3,1212.0L495.9,1218.3L514.5,1224.4Z"/>
<path fill="#4661a5" stroke="#4661a5" stroke-width="0.5" d="M504.2,1256.0L485.4,1249.8L466.6,1243.5L464.4,1249.7L483.3,1256.1L502.2,1262.4Z"/>
<path fill="#5267a4" stroke="#5267a4" stroke-width="0.5" d="M500.1,1268.7L481.2,1262.4L462.2,1256.0L457.9,1268.6L476.9,1275.1L496.0,1281.3ZM496.0,1281.3L476.9,1275.1L457.9,1268.6L453.6,1281.2L472.7,1287.7L491.9,1294.0ZM635.1,962.9L618.8,957.9L602.5,952.7L598.4,965.3L614.8,970.6L631.2,975.7ZM631.2,975.7L614.8,970.6L598.4,965.3L596.3,971.7L612.8,976.9L629.3,982.0Z"/>
<path fill="#6574a9" stroke="#6574a9" stroke-width="0.5" d="M627.3,988.4L610.8,983.3L594.3,978.0L592.2,984.3L608.8,989.6L625.4,994.7Z"/>
<path fill="#4661a5" stroke="#4661a5" stroke-width="0.5" d="M625.4,994.7L608.8,989.6L592.2,984.3L590.2,990.7L606.8,996.0L623.4,1001.1ZM623.4,1001.1L606.8,996.0L590.2,990.7L588.1,997.0L604.8,1002.3L621.5,1007.5Z"/>
<path fill="#5267a4" stroke="#5267a4" stroke-width="0.5" d="M613.8,1032.9L596.8,1027.7L579.9,1022.3L573.8,1041.3L590.8,1046.7L607.9,1052.0Z"/>
<path fill="#4661a5" stroke="#4661a5" stroke-width="0.5" d="M607.9,1052.0L590.8,1046.7L573.8,1041.3L569.7,1053.9L586.9,1059.4L604.1,1064.7Z"/>
<path fill="#5267a4" stroke="#5267a4" stroke-width="0.5" d="M598.2,1083.8L580.9,1078.4L563.6,1072.9L559.5,1085.5L576.9,1091.1L594.4,1096.5ZM594.4,1096.5L576.9,1091.1L559.5,1085.5L555.4,1098.2L572.9,1103.8L590.5,1109.2Z"/>
<path fill="#6574a9" stroke="#6574a9" stroke-width="0.5" d="M588.5,1115.6L570.9,1110.1L553.3,1104.5L551.3,1110.9L568.9,1116.5L586.6,1122.0Z"/>
<path fill="#5267a4" stroke="#5267a4" stroke-width="0.5" d="M582.7,1134.7L564.9,1129.2L547.2,1123.5L545.1,1129.8L562.9,1135.5L580.8,1141.1ZM565.3,1191.9L547.0,1186.3L528.7,1180.4L524.6,1193.1L543.0,1199.0L561.4,1204.7Z"/>
<path fill="#6b79ad" stroke="#6b79ad" stroke-width="0.5" d="M561.4,1204.7L543.0,1199.0L524.6,1193.1L522.6,1199.4L541.0,1205.3L559.5,1211.0Z"/>
<path fill="#5267a4" stroke="#5267a4" stroke-width="0.5" d="M559.5,1211.0L541.0,1205.3L522.6,1199.4L520.5,1205.7L539.0,1211.6L557.5,1217.4ZM557.5,1217.4L539.0,1211.6L520.5,1205.7L516.4,1218.4L535.0,1224.3L553.7,1230.1ZM547.8,1249.2L529.0,1243.4L510.3,1237.4L508.2,1243.7L527.0,1249.7L545.9,1255.6ZM542.0,1268.3L523.0,1262.4L504.1,1256.4L500.0,1269.0L519.1,1275.1L538.1,1281.0Z"/>
<path fill="#6b79ad" stroke="#6b79ad" stroke-width="0.5" d="M538.1,1281.0L519.1,1275.1L500.0,1269.0L498.0,1275.3L517.1,1281.4L536.2,1287.4Z"/>
<path fill="#5267a4" stroke="#5267a4" stroke-width="0.5" d="M536.2,1287.4L517.1,1281.4L498.0,1275.3L493.9,1288.0L513.1,1294.1L532.3,1300.1ZM532.3,1300.1L513.1,1294.1L493.9,1288.0L491.8,1294.3L511.1,1300.5L530.4,1306.4Z"/>
<path fill="#6574a9" stroke="#6574a9" stroke-width="0.5" d="M530.4,1306.4L511.1,1300.5L491.8,1294.3L489.8,1300.6L509.1,1306.8L528.4,1312.8ZM528.4,1312.8L509.1,1306.8L489.8,1300.6L487.7,1307.0L507.1,1313.2L526.5,1319.2Z"/>
<path fill="#5267a4" stroke="#5267a4" stroke-width="0.5" d="M526.5,1319.2L507.1,1313.2L487.7,1307.0L483.6,1319.6L503.1,1325.8L522.6,1331.9ZM670.7,962.7L654.4,958.0L638.1,953.1L634.2,965.8L650.6,970.7L667.0,975.5Z"/>
<path fill="#6574a9" stroke="#6574a9" stroke-width="0.5" d="M667.0,975.5L650.6,970.7L634.2,965.8L632.3,972.2L648.7,977.1L665.2,981.9Z"/>
<path fill="#5267a4" stroke="#5267a4" stroke-width="0.5" d="M652.4,1026.6L635.5,1021.7L618.7,1016.7L614.8,1029.4L631.8,1034.5L648.7,1039.4Z"/>
<path fill="#6574a9" stroke="#6574a9" stroke-width="0.5" d="M645.1,1052.2L628.0,1047.3L610.9,1042.1L609.0,1048.5L626.1,1053.6L643.3,1058.6Z"/>
<path fill="#5267a4" stroke="#5267a4" stroke-width="0.5" d="M630.5,1103.4L612.9,1098.3L595.4,1093.0L591.6,1105.8L609.2,1111.0L626.8,1116.2Z"/>
<path fill="#4661a5" stroke="#4661a5" stroke-width="0.5" d="M621.3,1135.3L603.5,1130.2L585.7,1124.8L583.8,1131.2L601.6,1136.5L619.5,1141.7Z"/>
<path fill="#6b79ad" stroke="#6b79ad" stroke-width="0.5" d="M601.2,1205.7L582.8,1200.3L564.4,1194.8L562.5,1201.2L580.9,1206.7L599.4,1212.1Z"/>
<path fill="#5267a4" stroke="#5267a4" stroke-width="0.5" d="M599.4,1212.1L580.9,1206.7L562.5,1201.2L560.5,1207.5L579.0,1213.1L597.6,1218.5ZM597.6,1218.5L579.0,1213.1L560.5,1207.5L554.7,1226.6L573.4,1232.2L592.1,1237.6Z"/>
<path fill="#4661a5" stroke="#4661a5" stroke-width="0.5" d="M592.1,1237.6L573.4,1232.2L554.7,1226.6L552.8,1233.0L571.5,1238.6L590.3,1244.0Z"/>
<path fill="#5267a4" stroke="#5267a4" stroke-width="0.5" d="M584.8,1263.2L565.8,1257.7L547.0,1252.1L543.1,1264.8L562.1,1270.5L581.1,1276.0Z"/>
<path fill="#6574a9" stroke="#6574a9" stroke-width="0.5" d="M581.1,1276.0L562.1,1270.5L543.1,1264.8L541.1,1271.1L560.2,1276.9L579.3,1282.4Z"/>
<path fill="#5267a4" stroke="#5267a4" stroke-width="0.5" d="M566.5,1327.2L547.0,1321.5L527.6,1315.7L525.6,1322.0L545.1,1327.9L564.7,1333.6ZM701.3,979.8L684.8,975.3L668.4,970.7L662.9,989.9L679.5,994.5L696.1,999.1ZM696.1,999.1L679.5,994.5L662.9,989.9L657.4,1009.1L674.2,1013.8L691.0,1018.3Z"/>
<path fill="#6574a9" stroke="#6574a9" stroke-width="0.5" d="M691.0,1018.3L674.2,1013.8L657.4,1009.1L655.6,1015.4L672.4,1020.2L689.3,1024.8Z"/>
<path fill="#5267a4" stroke="#5267a4" stroke-width="0.5" d="M689.3,1024.8L672.4,1020.2L655.6,1015.4L653.8,1021.8L670.6,1026.6L687.5,1031.2ZM682.4,1050.5L665.3,1045.8L648.3,1041.0L644.6,1053.8L661.8,1058.6L679.0,1063.3ZM679.0,1063.3L661.8,1058.6L644.6,1053.8L641.0,1066.6L658.2,1071.4L675.5,1076.2Z"/>
<path fill="#6b79ad" stroke="#6b79ad" stroke-width="0.5" d="M673.8,1082.6L656.5,1077.9L639.1,1073.0L637.3,1079.4L654.7,1084.3L672.1,1089.0Z"/>
<path fill="#5267a4" stroke="#5267a4" stroke-width="0.5" d="M672.1,1089.0L654.7,1084.3L637.3,1079.4L635.5,1085.8L652.9,1090.7L670.4,1095.4ZM665.2,1114.7L647.6,1109.9L630.0,1105.0L626.4,1117.7L644.1,1122.7L661.8,1127.6ZM661.8,1127.6L644.1,1122.7L626.4,1117.7L620.9,1136.9L638.7,1142.0L656.7,1146.8ZM651.5,1166.1L633.4,1161.2L615.4,1156.1L613.6,1162.5L631.7,1167.6L649.8,1172.5ZM648.1,1178.9L629.9,1174.0L611.7,1168.9L609.9,1175.3L628.1,1180.4L646.4,1185.4ZM639.5,1211.1L621.0,1206.1L602.6,1200.9L598.9,1213.7L617.5,1218.9L636.1,1223.9Z"/>
<path fill="#6b79ad" stroke="#6b79ad" stroke-width="0.5" d="M636.1,1223.9L617.5,1218.9L598.9,1213.7L597.1,1220.1L615.7,1225.3L634.4,1230.3Z"/>
<path fill="#4661a5" stroke="#4661a5" stroke-width="0.5" d="M624.1,1268.9L605.1,1263.7L586.1,1258.4L584.3,1264.8L603.3,1270.2L622.4,1275.3Z"/>
<path fill="#5267a4" stroke="#5267a4" stroke-width="0.5" d="M620.6,1281.7L601.5,1276.6L582.5,1271.2L577.0,1290.4L596.2,1295.8L615.5,1301.0ZM615.5,1301.0L596.2,1295.8L577.0,1290.4L573.4,1303.2L592.7,1308.6L612.1,1313.9Z"/>
<path fill="#6574a9" stroke="#6574a9" stroke-width="0.5" d="M612.1,1313.9L592.7,1308.6L573.4,1303.2L571.5,1309.6L590.9,1315.0L610.3,1320.3Z"/>
<path fill="#5267a4" stroke="#5267a4" stroke-width="0.5" d="M610.3,1320.3L590.9,1315.0L571.5,1309.6L567.9,1322.4L587.4,1327.8L606.9,1333.1ZM733.9,989.9L717.3,985.8L700.8,981.4L697.4,994.3L714.0,998.6L730.7,1002.8Z"/>
<path fill="#6b79ad" stroke="#6b79ad" stroke-width="0.5" d="M730.7,1002.8L714.0,998.6L697.4,994.3L695.7,1000.7L712.4,1005.1L729.1,1009.3Z"/>
<path fill="#5267a4" stroke="#5267a4" stroke-width="0.5" d="M729.1,1009.3L712.4,1005.1L695.7,1000.7L692.3,1013.5L709.1,1018.0L725.9,1022.2ZM717.9,1054.5L700.8,1050.1L683.7,1045.7L680.2,1058.5L697.4,1063.0L714.7,1067.4Z"/>
<path fill="#6b79ad" stroke="#6b79ad" stroke-width="0.5" d="M714.7,1067.4L697.4,1063.0L680.2,1058.5L678.5,1064.9L695.8,1069.5L713.1,1073.8Z"/>
<path fill="#5267a4" stroke="#5267a4" stroke-width="0.5" d="M711.5,1080.3L694.1,1075.9L676.8,1071.4L671.7,1090.6L689.1,1095.2L706.6,1099.7ZM705.0,1106.1L687.5,1101.7L670.0,1097.1L668.2,1103.5L685.8,1108.1L703.4,1112.6ZM698.6,1131.9L680.8,1127.4L663.1,1122.8L659.7,1135.6L677.5,1140.3L695.4,1144.8ZM695.4,1144.8L677.5,1140.3L659.7,1135.6L656.2,1148.5L674.2,1153.2L692.2,1157.7ZM692.2,1157.7L674.2,1153.2L656.2,1148.5L652.8,1161.3L670.9,1166.1L689.0,1170.6ZM681.0,1202.9L662.6,1198.3L644.2,1193.4L640.8,1206.3L659.3,1211.1L677.8,1215.8ZM673.0,1235.2L654.3,1230.5L635.6,1225.6L632.2,1238.4L651.0,1243.3L669.8,1248.1ZM666.6,1261.0L647.7,1256.2L628.8,1251.3L625.3,1264.1L644.3,1269.1L663.4,1273.9ZM663.4,1273.9L644.3,1269.1L625.3,1264.1L620.2,1283.4L639.4,1288.4L658.6,1293.3ZM658.6,1293.3L639.4,1288.4L620.2,1283.4L616.8,1296.2L636.0,1301.3L655.3,1306.2ZM655.3,1306.2L636.0,1301.3L616.8,1296.2L613.3,1309.1L632.7,1314.2L652.1,1319.1ZM652.1,1319.1L632.7,1314.2L613.3,1309.1L609.9,1321.9L629.4,1327.1L648.9,1332.0ZM648.9,1332.0L629.4,1327.1L609.9,1321.9L604.8,1341.2L624.4,1346.4L644.1,1351.4Z"/>
<path fill="#6574a9" stroke="#6574a9" stroke-width="0.5" d="M644.1,1351.4L624.4,1346.4L604.8,1341.2L603.0,1347.6L622.8,1352.8L642.5,1357.8ZM757.0,1041.7L740.0,1037.8L723.1,1033.6L721.4,1040.1L738.5,1044.2L755.5,1048.2Z"/>
<path fill="#5267a4" stroke="#5267a4" stroke-width="0.5" d="M751.1,1067.7L733.8,1063.6L716.6,1059.4L713.4,1072.3L730.7,1076.6L748.1,1080.6ZM745.1,1093.6L727.6,1089.5L710.2,1085.2L707.0,1098.2L724.6,1102.4L742.1,1106.5ZM742.1,1106.5L724.6,1102.4L707.0,1098.2L703.8,1111.1L721.5,1115.4L739.1,1119.5ZM739.1,1119.5L721.5,1115.4L703.8,1111.1L702.2,1117.5L719.9,1121.8L737.7,1126.0ZM737.7,1126.0L719.9,1121.8L702.2,1117.5L699.0,1130.4L716.8,1134.8L734.7,1139.0ZM734.7,1139.0L716.8,1134.8L699.0,1130.4L695.8,1143.3L713.7,1147.7L731.7,1151.9ZM724.2,1184.3L706.0,1180.0L687.8,1175.6L684.6,1188.5L702.9,1193.0L721.3,1197.3ZM721.3,1197.3L702.9,1193.0L684.6,1188.5L681.4,1201.4L699.8,1205.9L718.3,1210.2ZM715.3,1223.2L696.7,1218.8L678.2,1214.3L675.0,1227.2L693.6,1231.8L712.3,1236.2Z"/>
<path fill="#6574a9" stroke="#6574a9" stroke-width="0.5" d="M712.3,1236.2L693.6,1231.8L675.0,1227.2L673.4,1233.7L692.1,1238.2L710.8,1242.6ZM709.3,1249.1L690.5,1244.7L671.8,1240.1L670.1,1246.6L689.0,1251.2L707.9,1255.6Z"/>
<path fill="#5267a4" stroke="#5267a4" stroke-width="0.5" d="M707.9,1255.6L689.0,1251.2L670.1,1246.6L665.3,1266.0L684.3,1270.6L703.4,1275.1ZM703.4,1275.1L684.3,1270.6L665.3,1266.0L662.1,1278.9L681.2,1283.5L700.4,1288.0Z"/>
<path fill="#6574a9" stroke="#6574a9" stroke-width="0.5" d="M698.9,1294.5L679.7,1290.0L660.5,1285.3L658.9,1291.8L678.2,1296.5L697.4,1301.0Z"/>
<path fill="#6b79ad" stroke="#6b79ad" stroke-width="0.5" d="M691.5,1326.9L672.0,1322.3L652.5,1317.6L650.9,1324.0L670.4,1328.8L690.0,1333.4Z"/>
<path fill="#5267a4" stroke="#5267a4" stroke-width="0.5" d="M85.1,959.4L68.9,949.6L52.7,939.6L49.2,945.2L65.4,955.3L81.7,965.1ZM81.7,965.1L65.4,955.3L49.2,945.2L42.1,956.5L58.5,966.6L74.9,976.6Z"/>
<path fill="#4661a5" stroke="#4661a5" stroke-width="0.5" d="M74.9,976.6L58.5,966.6L42.1,956.5L38.6,962.2L55.0,972.3L71.5,982.3Z"/>
<path fill="#6574a9" stroke="#6574a9" stroke-width="0.5" d="M54.4,1010.8L37.7,1000.7L21.0,990.4L17.5,996.0L34.2,1006.3L50.9,1016.5Z"/>
<path fill="#6b79ad" stroke="#6b79ad" stroke-width="0.5" d="M50.9,1016.5L34.2,1006.3L17.5,996.0L14.0,1001.7L30.7,1012.0L47.5,1022.2Z"/>
<path fill="#4661a5" stroke="#4661a5" stroke-width="0.5" d="M47.5,1022.2L30.7,1012.0L14.0,1001.7L10.5,1007.3L27.2,1017.7L44.1,1027.9Z"/>
<path fill="#5267a4" stroke="#5267a4" stroke-width="0.5" d="M27.0,1056.4L9.9,1046.0L-7.1,1035.5L-17.7,1052.5L-0.5,1063.1L16.7,1073.5Z"/>
<path fill="#6b79ad" stroke="#6b79ad" stroke-width="0.5" d="M13.3,1079.2L-4.0,1068.7L-21.2,1058.1L-24.7,1063.7L-7.5,1074.4L9.9,1084.9Z"/>
<path fill="#5267a4" stroke="#5267a4" stroke-width="0.5" d="M117.9,978.7L101.5,969.2L85.1,959.4L78.3,970.9L94.7,980.6L111.3,990.2Z"/>
<path fill="#6b79ad" stroke="#6b79ad" stroke-width="0.5" d="M108.0,996.0L91.4,986.4L74.9,976.6L71.5,982.3L88.0,992.1L104.6,1001.8Z"/>
<path fill="#5267a4" stroke="#5267a4" stroke-width="0.5" d="M104.6,1001.8L88.0,992.1L71.5,982.3L64.6,993.7L81.3,1003.5L98.0,1013.3ZM94.7,1019.0L77.9,1009.3L61.2,999.4L54.4,1010.8L71.2,1020.7L88.0,1030.6Z"/>
<path fill="#4661a5" stroke="#4661a5" stroke-width="0.5" d="M88.0,1030.6L71.2,1020.7L54.4,1010.8L50.9,1016.5L67.8,1026.5L84.7,1036.3Z"/>
<path fill="#6574a9" stroke="#6574a9" stroke-width="0.5" d="M71.4,1059.4L54.3,1049.4L37.3,1039.3L33.8,1045.0L50.9,1055.1L68.1,1065.1Z"/>
<path fill="#6b79ad" stroke="#6b79ad" stroke-width="0.5" d="M61.5,1076.7L44.2,1066.6L27.0,1056.4L23.6,1062.1L40.8,1072.3L58.2,1082.4Z"/>
<path fill="#5267a4" stroke="#5267a4" stroke-width="0.5" d="M58.2,1082.4L40.8,1072.3L23.6,1062.1L16.7,1073.5L34.1,1083.8L51.5,1094.0ZM51.5,1094.0L34.1,1083.8L16.7,1073.5L13.3,1079.2L30.7,1089.5L48.2,1099.7ZM153.9,992.2L137.4,982.9L120.9,973.5L111.0,990.8L127.6,1000.3L144.3,1009.6ZM144.3,1009.6L127.6,1000.3L111.0,990.8L104.3,1002.3L121.0,1011.9L137.8,1021.3Z"/>
<path fill="#6574a9" stroke="#6574a9" stroke-width="0.5" d="M128.2,1038.7L111.2,1029.2L94.4,1019.6L91.0,1025.4L108.0,1035.0L125.0,1044.5Z"/>
<path fill="#5267a4" stroke="#5267a4" stroke-width="0.5" d="M125.0,1044.5L108.0,1035.0L91.0,1025.4L84.4,1036.9L101.4,1046.6L118.5,1056.2ZM118.5,1056.2L101.4,1046.6L84.4,1036.9L77.8,1048.4L94.9,1058.2L112.1,1067.8ZM112.1,1067.8L94.9,1058.2L77.8,1048.4L71.1,1059.9L88.3,1069.8L105.7,1079.4Z"/>
<path fill="#6574a9" stroke="#6574a9" stroke-width="0.5" d="M105.7,1079.4L88.3,1069.8L71.1,1059.9L67.8,1065.7L85.1,1075.6L102.4,1085.3Z"/>
<path fill="#5267a4" stroke="#5267a4" stroke-width="0.5" d="M99.2,1091.1L81.8,1081.4L64.5,1071.5L61.2,1077.2L78.5,1087.1L96.0,1096.9ZM89.6,1108.5L72.0,1098.7L54.5,1088.8L47.9,1100.3L65.5,1110.3L83.1,1120.2ZM83.1,1120.2L65.5,1110.3L47.9,1100.3L44.6,1106.0L62.2,1116.1L79.9,1126.0ZM79.9,1126.0L62.2,1116.1L44.6,1106.0L34.6,1123.3L52.4,1133.5L70.2,1143.5ZM169.8,1043.1L152.8,1034.0L135.9,1024.8L126.2,1042.2L143.3,1051.6L160.5,1060.8Z"/>
<path fill="#6574a9" stroke="#6574a9" stroke-width="0.5" d="M160.5,1060.8L143.3,1051.6L126.2,1042.2L123.0,1048.0L140.2,1057.4L157.4,1066.6Z"/>
<path fill="#5267a4" stroke="#5267a4" stroke-width="0.5" d="M157.4,1066.6L140.2,1057.4L123.0,1048.0L116.6,1059.7L133.8,1069.1L151.1,1078.4ZM144.9,1090.1L127.5,1080.8L110.2,1071.3L106.9,1077.1L124.3,1086.6L141.8,1096.0Z"/>
<path fill="#6b79ad" stroke="#6b79ad" stroke-width="0.5" d="M141.8,1096.0L124.3,1086.6L106.9,1077.1L103.7,1082.9L121.1,1092.5L138.6,1101.9Z"/>
<path fill="#5267a4" stroke="#5267a4" stroke-width="0.5" d="M138.6,1101.9L121.1,1092.5L103.7,1082.9L100.5,1088.8L118.0,1098.3L135.5,1107.7Z"/>
<path fill="#4661a5" stroke="#4661a5" stroke-width="0.5" d="M135.5,1107.7L118.0,1098.3L100.5,1088.8L97.3,1094.6L114.8,1104.2L132.4,1113.6Z"/>
<path fill="#5267a4" stroke="#5267a4" stroke-width="0.5" d="M132.4,1113.6L114.8,1104.2L97.3,1094.6L90.8,1106.2L108.5,1115.9L126.2,1125.4Z"/>
<path fill="#6574a9" stroke="#6574a9" stroke-width="0.5" d="M119.9,1137.1L102.1,1127.6L84.4,1117.9L81.2,1123.7L99.0,1133.4L116.8,1143.0Z"/>
<path fill="#5267a4" stroke="#5267a4" stroke-width="0.5" d="M116.8,1143.0L99.0,1133.4L81.2,1123.7L71.5,1141.1L89.5,1151.0L107.5,1160.6ZM219.1,1031.3L202.2,1022.6L185.4,1013.8L179.2,1025.5L196.1,1034.4L213.1,1043.1Z"/>
<path fill="#6574a9" stroke="#6574a9" stroke-width="0.5" d="M207.1,1055.0L190.0,1046.2L172.9,1037.3L169.8,1043.1L186.9,1052.1L204.0,1060.9Z"/>
<path fill="#6b79ad" stroke="#6b79ad" stroke-width="0.5" d="M198.0,1072.8L180.8,1063.9L163.6,1054.9L160.5,1060.8L177.7,1069.8L195.0,1078.7Z"/>
<path fill="#6574a9" stroke="#6574a9" stroke-width="0.5" d="M195.0,1078.7L177.7,1069.8L160.5,1060.8L157.4,1066.6L174.6,1075.7L192.0,1084.6Z"/>
<path fill="#5267a4" stroke="#5267a4" stroke-width="0.5" d="M192.0,1084.6L174.6,1075.7L157.4,1066.6L154.2,1072.5L171.6,1081.6L189.0,1090.5ZM182.9,1102.4L165.4,1093.4L148.0,1084.3L141.8,1096.0L159.3,1105.2L176.9,1114.3Z"/>
<path fill="#6574a9" stroke="#6574a9" stroke-width="0.5" d="M167.9,1132.0L150.1,1122.9L132.4,1113.6L129.3,1119.5L147.0,1128.8L164.9,1138.0Z"/>
<path fill="#5267a4" stroke="#5267a4" stroke-width="0.5" d="M158.8,1149.8L140.9,1140.6L123.1,1131.2L119.9,1137.1L137.8,1146.5L155.8,1155.8Z"/>
<path fill="#6b79ad" stroke="#6b79ad" stroke-width="0.5" d="M155.8,1155.8L137.8,1146.5L119.9,1137.1L116.8,1143.0L134.8,1152.4L152.8,1161.7Z"/>
<path fill="#5267a4" stroke="#5267a4" stroke-width="0.5" d="M152.8,1161.7L134.8,1152.4L116.8,1143.0L107.5,1160.6L125.6,1170.1L143.8,1179.5Z"/>
<path fill="#4661a5" stroke="#4661a5" stroke-width="0.5" d="M390.3,926.6L374.3,919.4L358.4,912.1L342.5,904.6L326.7,897.0L321.7,907.3L337.6,915.0L353.5,922.5L369.5,929.9L385.6,937.1ZM423.6,937.8L407.5,930.9L391.5,923.8L387.2,933.4L403.3,940.5L419.5,947.4Z"/>
<path fill="#58aadb" stroke="#58aadb" stroke-width="0.5" d="M415.8,956.2L399.6,949.2L383.4,942.1L380.9,947.6L397.2,954.7L413.5,961.7Z"/>
<path fill="#4a7cb4" stroke="#4a7cb4" stroke-width="0.5" d="M412.5,964.0L396.2,957.0L379.9,949.9L375.0,960.8L391.4,968.0L407.8,975.0Z"/>
<path fill="#4661a5" stroke="#4661a5" stroke-width="0.5" d="M440.1,990.5L423.5,983.8L407.0,976.9L390.6,969.9L374.2,962.7L366.9,979.1L383.4,986.4L400.0,993.5L416.6,1000.4L433.3,1007.2Z"/>
<path fill="#4a7cb4" stroke="#4a7cb4" stroke-width="0.5" d="M446.0,975.7L429.6,969.0L413.3,962.2L410.9,967.7L427.3,974.5L443.8,981.3ZM435.8,1001.2L419.1,994.4L402.5,987.5L400.4,992.5L417.0,999.5L433.7,1006.3ZM469.6,1013.4L452.8,1006.9L436.1,1000.3L431.8,1010.9L448.6,1017.6L465.5,1024.2Z"/>
<path fill="#4661a5" stroke="#4661a5" stroke-width="0.5" d="M507.5,1014.2L490.7,1008.1L474.0,1001.7L467.6,1018.6L484.5,1024.9L501.4,1031.1ZM523.0,971.5L506.6,965.4L490.3,959.3L487.5,966.7L503.9,972.9L520.3,979.0Z"/>
<path fill="#5267a4" stroke="#5267a4" stroke-width="0.5" d="M537.9,930.6L521.8,924.7L505.9,918.6L494.1,949.4L510.3,955.6L526.6,961.6Z"/>
<path fill="#6b79ad" stroke="#6b79ad" stroke-width="0.5" d="M493.4,951.3L477.1,945.0L461.0,938.6L458.6,944.6L474.8,951.1L491.0,957.4ZM569.5,943.5L553.4,937.9L537.3,932.2L535.4,937.4L551.5,943.2L567.7,948.8ZM604.2,947.5L588.0,942.2L571.9,936.7L570.0,942.1L586.2,947.6L602.4,952.9ZM563.1,962.4L546.8,956.7L530.5,950.9L528.7,955.9L545.0,961.8L561.3,967.5Z"/>
<path fill="#5267a4" stroke="#5267a4" stroke-width="0.5" d="M542.0,919.3L526.0,913.4L510.2,907.4L508.4,912.1L524.3,918.1L540.3,924.0ZM610.5,928.0L594.5,922.7L578.5,917.3L562.6,911.8L546.7,906.1L544.9,911.3L560.8,917.0L576.7,922.5L592.7,928.0L608.8,933.2Z"/>
<path fill="#4661a5" stroke="#4661a5" stroke-width="0.5" d="M153.8,992.5L137.2,983.2L120.7,973.8L111.3,990.3L127.9,999.8L144.6,1009.1ZM187.6,1009.7L170.9,1000.7L154.3,991.6L146.0,1006.5L162.8,1015.6L179.6,1024.7ZM221.4,1026.7L204.6,1018.0L187.8,1009.2L182.0,1020.3L198.8,1029.1L215.8,1037.8Z"/>
<path fill="#4a7cb4" stroke="#4a7cb4" stroke-width="0.5" d="M144.1,1010.0L127.4,1000.6L110.8,991.1L101.8,1006.7L118.5,1016.3L135.4,1025.7ZM179.6,1024.7L162.8,1015.6L146.0,1006.5L141.2,1015.2L158.0,1024.4L174.9,1033.5ZM215.8,1037.8L198.8,1029.1L182.0,1020.3L174.5,1034.4L191.5,1043.3L208.5,1052.1Z"/>
<path fill="#58aadb" stroke="#58aadb" stroke-width="0.5" d="M134.9,1026.6L118.0,1017.2L101.3,1007.6L95.3,1018.0L112.1,1027.6L129.1,1037.1Z"/>
<path fill="#4f94c8" stroke="#4f94c8" stroke-width="0.5" d="M174.9,1033.5L158.0,1024.4L141.2,1015.2L134.9,1026.6L151.8,1035.9L168.8,1045.0Z"/>
<path fill="#5267a4" stroke="#5267a4" stroke-width="0.5" d="M118.7,977.3L102.3,967.7L86.0,958.0L69.7,948.2L53.6,938.2L49.3,945.0L65.6,955.0L81.9,964.9L98.3,974.6L114.8,984.2ZM114.8,984.2L98.3,974.6L81.9,964.9L65.6,955.0L49.3,945.0L41.9,956.9L58.3,967.0L74.7,976.9L91.2,986.7L107.8,996.3Z"/>
<path fill="#6b79ad" stroke="#6b79ad" stroke-width="0.5" d="M107.8,996.3L91.2,986.7L74.7,976.9L58.3,967.0L41.9,956.9L36.1,966.2L52.5,976.3L69.0,986.3L85.6,996.2L102.3,1005.9Z"/>
<path fill="#4661a5" stroke="#4661a5" stroke-width="0.5" d="M102.3,1005.9L85.6,996.2L69.0,986.3L52.5,976.3L36.1,966.2L30.8,974.7L47.3,984.9L63.9,994.9L80.5,1004.8L97.3,1014.5Z"/>
<path fill="#4a7cb4" stroke="#4a7cb4" stroke-width="0.5" d="M97.3,1014.5L80.5,1004.8L63.9,994.9L47.3,984.9L30.8,974.7L24.5,984.9L41.0,995.1L57.7,1005.2L74.5,1015.1L91.3,1024.9Z"/>
<path fill="#4f94c8" stroke="#4f94c8" stroke-width="0.5" d="M91.3,1024.9L74.5,1015.1L57.7,1005.2L41.0,995.1L24.5,984.9L14.9,1000.1L31.7,1010.5L48.4,1020.6L65.3,1030.7L82.3,1040.5Z"/>
<path fill="#ffffff" d="M300.5,950.8L284.3,942.8L268.2,934.7L266.4,938.3L282.6,946.4L298.8,954.4ZM225.6,1018.5L208.8,1009.9L192.1,1001.1L190.4,1004.4L207.1,1013.1L223.9,1021.8ZM708.6,952.5L692.3,948.1L676.1,943.5L675.0,947.7L691.2,952.2L707.4,956.6ZM642.1,940.0L625.9,935.0L609.9,929.9L608.6,933.9L624.7,939.0L640.8,944.0Z"/>
</g>
<use href="#thin" opacity="0.3"/>
<g class="bord">
<path d="M1015.0,370.6 C1014.5,371.7 1013.5,374.9 1011.9,377.0 C1010.3,379.2 1008.0,381.3 1005.5,383.4 C1002.9,385.6 999.5,387.9 996.5,389.9 C993.5,391.8 990.3,393.2 987.5,395.0 C984.7,396.8 982.1,398.6 979.8,400.9 C977.4,403.3 975.1,406.3 973.4,409.1 C971.6,412.0 970.4,415.6 969.5,418.1 C968.7,420.7 968.1,422.6 968.2,424.5 C968.3,426.5 969.0,428.5 970.0,429.7 C971.1,430.9 972.8,431.5 974.6,431.7 C976.5,431.9 978.9,431.1 981.1,431.0 C983.2,430.8 985.5,430.4 987.5,431.0 C989.5,431.5 991.6,432.8 993.1,434.3 C994.6,435.8 995.8,437.7 996.5,439.9 C997.2,442.2 997.5,444.7 997.2,447.7 C997.0,450.6 996.2,454.5 995.2,457.9 C994.2,461.3 992.8,464.3 991.3,468.2 C989.8,472.0 988.1,476.5 986.2,481.0 C984.3,485.5 981.8,490.7 979.8,495.2 C977.8,499.7 975.6,504.4 974.1,508.0 C972.6,511.6 971.6,514.0 970.8,517.0 C969.9,520.0 969.6,523.4 969.0,526.0 C968.4,528.5 967.8,530.6 966.9,532.4 C966.1,534.2 964.4,536.2 963.9,537.0 M963.9,537.0 C963.6,538.3 963.3,541.9 962.6,544.7 C961.8,547.5 960.9,551.0 959.2,553.7 C957.6,556.3 955.2,558.7 952.8,560.6 C950.5,562.6 947.5,563.6 945.1,565.2 C942.8,566.9 940.4,568.3 938.7,570.4 C937.0,572.4 936.3,575.2 934.8,577.6 C933.3,579.9 931.2,582.1 929.7,584.5 C928.2,586.9 927.1,589.7 925.9,592.2 C924.6,594.7 923.9,597.0 922.0,599.4 C920.1,601.8 917.1,604.5 914.3,606.3 C911.5,608.2 908.1,609.8 905.3,610.7 C902.5,611.6 899.8,611.3 897.6,611.5 C895.4,611.7 893.9,611.1 892.0,612.0 C890.0,612.8 888.1,614.8 886.0,616.6 C884.0,618.5 881.8,620.7 879.6,623.0 C877.5,625.4 874.9,628.4 873.2,630.7 C871.5,633.1 870.3,634.8 869.4,637.2 C868.4,639.5 867.6,642.3 867.6,644.9 C867.6,647.4 868.2,650.0 869.4,652.6 C870.5,655.1 872.6,658.0 874.5,660.3 C876.4,662.5 879.4,664.2 880.9,666.2 C882.4,668.1 883.3,669.8 883.5,671.8 C883.7,673.8 883.3,676.5 882.2,678.2 C881.1,680.0 879.0,681.6 877.1,682.1 C875.1,682.6 872.6,682.1 870.6,681.3 C868.7,680.6 867.2,678.7 865.5,677.7 C863.8,676.8 862.3,675.8 860.4,675.7 C858.4,675.5 856.5,675.9 853.9,677.0 C851.4,678.0 847.5,680.2 845.0,682.1 C842.4,684.0 840.0,686.4 838.5,688.5 C837.0,690.7 836.0,692.8 836.0,694.9 C836.0,697.1 836.8,699.2 838.5,701.4 C840.3,703.5 842.8,705.2 846.2,707.8 C849.7,710.3 854.8,713.6 859.1,716.8 C863.4,719.9 868.3,723.5 871.9,726.5 C875.6,729.5 879.0,732.1 880.9,734.7 C882.8,737.4 883.4,739.4 883.5,742.4 C883.6,745.4 882.5,749.5 881.7,752.7 C880.8,755.9 879.8,759.1 878.3,761.7 C876.9,764.3 875.3,765.8 873.2,768.1 C871.1,770.5 867.9,773.3 865.5,775.8 C863.1,778.3 860.2,781.8 859.1,783.0 M859.1,783.0 C858.7,784.1 858.0,787.5 856.5,789.4 C855.0,791.3 852.2,792.6 850.1,794.6 C848.0,796.5 845.6,798.8 843.7,801.0 C841.7,803.1 840.0,805.0 838.5,807.4 C837.0,809.8 835.4,812.7 834.7,815.1 C834.0,817.5 834.0,818.7 834.2,821.5 C834.4,824.3 835.2,827.9 836.0,831.8 C836.8,835.6 837.8,839.9 839.1,844.6 C840.3,849.3 842.0,854.9 843.7,860.0 C845.3,865.2 847.3,870.7 848.8,875.4 C850.3,880.2 851.7,884.2 852.7,888.3 C853.6,892.4 854.4,896.0 854.7,899.8 C855.1,903.7 854.6,907.6 854.7,911.4 C854.8,915.3 854.8,919.1 855.2,923.0 C855.6,926.8 856.6,930.9 857.0,934.5 C857.5,938.2 857.8,941.4 857.8,944.8 C857.8,948.2 857.3,951.2 857.0,955.1 C856.7,958.9 856.3,963.6 856.0,967.9 C855.7,972.2 855.4,976.5 855.2,980.7 C855.0,985.0 854.8,990.2 854.7,993.6 C854.6,997.0 854.7,1000.0 854.7,1001.3 M854.7,1001.3 L862.2,1002.6 L862.2,1009.0 L855.2,1009.5 L856.5,1019.3 L857.0,1029.0 M705.0,947.4 L721.7,944.3 L716.6,964.0 L762.8,977.7 L789.7,1008.5 L809.0,1003.9 L815.9,1010.3 L823.1,1008.5 L848.8,1029.0 M855.2,1009.5 L866.8,1010.3 L870.6,1016.2 L879.6,1015.4 L880.1,1010.3 L889.9,1012.1 L897.6,1015.4 L906.6,1016.7 L915.6,1013.6 L923.3,1009.5 L925.3,1011.0 L933.6,1006.9 L941.3,1000.0 L947.7,996.1 L952.8,987.2 L957.2,980.2 L963.1,980.7 L968.2,982.8 L973.4,980.2 L978.5,984.6 L985.4,991.0 L982.3,993.6 L988.8,1001.3 L996.5,1008.5 L1001.6,1004.4 L1008.0,1008.5 L1015.0,1011.0 M395.0,936.3 L423.2,946.1 L448.2,930.1 L447.1,901.1 L482.3,884.4 L491.3,889.1 L563.2,889.1 L563.7,880.1 L599.2,885.7 L613.3,873.7 L677.5,899.8 L686.5,926.8 L694.2,937.1 L705.0,948.6 M337.4,1030.0 L336.8,1009.1 L351.7,994.2 L379.5,986.2 L385.5,965.3 L393.5,936.5 M244.1,1030.1 L253.0,1012.8 L281.9,1013.2 L298.8,1030.1 M83.2,905.0 L85.1,930.0 L88.0,963.0 L90.3,989.6 L93.0,1009.5 L102.0,1018.8 L116.0,1030.0"/>
</g>
<path d="M494.0,564.2 L496.0,560.8 L500.1,557.3 L504.1,555.5 L508.2,552.6 L512.3,549.7 L516.3,547.4 L519.8,545.5 L518.1,541.0 L521.0,539.7 L525.0,537.6 L529.7,534.3 L532.6,534.7 L533.7,532.9 L536.6,534.1 L539.5,531.8 L538.4,527.4 L543.0,524.8 L544.2,521.9 L547.6,517.8 L552.3,514.9 L556.9,513.2 L560.4,509.1 L563.3,507.6 L566.2,508.3 L569.1,510.3 L571.4,512.0 L574.9,510.6 L577.8,511.5 L581.3,509.7 L577.6,500.4 L584.8,497.0 L588.8,504.5 L595.2,501.6 L596.4,499.0 L599.8,499.9 L604.5,501.6 L608.5,503.3 L610.9,505.7 L611.7,508.6 L610.9,510.9 L606.8,512.3 L601.0,513.8 L595.2,516.1 L589.4,519.0 L584.8,520.4 L580.7,521.9 L579.0,524.2 L580.7,531.2 L574.3,534.7 L573.7,536.4 L570.8,530.6 L566.2,530.0 L562.1,532.3 L558.7,534.7 L557.5,537.0 L553.4,537.8 L548.2,540.5 L544.2,543.4 L541.8,546.8 L540.7,552.6 L539.5,557.3 L537.8,560.2 L539.3,563.1 L535.5,566.6 L535.1,570.0 L529.7,570.0 L523.1,569.5 L523.3,566.0 L519.8,563.1 L515.2,563.7 L511.1,564.2 L507.0,566.0 L502.4,567.5 L497.8,567.5 L494.9,566.6Z" fill="#c0c0c0" stroke="#3a3a3a" stroke-width="1.7" stroke-linejoin="round"/>
<path d="M556.0,513.8 L557.9,517.6 M557.2,513.8 L560.4,511.5 M560.4,510.6 C560.4,507.4 565.0,506.8 565.0,509.1 C565.0,511.5 560.4,512.6 560.4,510.6Z" fill="none" stroke="#1a1a1a" stroke-width="1.6"/>
<g class="grid">
<line x1="143.5" y1="45.5" x2="143.5" y2="1029.4"/>
<line x1="337.5" y1="45.5" x2="337.5" y2="1029.4"/>
<line x1="531.5" y1="45.5" x2="531.5" y2="1029.4"/>
<line x1="724.5" y1="45.5" x2="724.5" y2="1029.4"/>
<line x1="918.5" y1="45.5" x2="918.5" y2="1029.4"/>
<line x1="85.5" y1="164.5" x2="1015.5" y2="164.5"/>
<line x1="85.5" y1="314.5" x2="1015.5" y2="314.5"/>
<line x1="85.5" y1="463.5" x2="1015.5" y2="463.5"/>
<line x1="85.5" y1="612.5" x2="1015.5" y2="612.5"/>
<line x1="85.5" y1="761.5" x2="1015.5" y2="761.5"/>
<line x1="85.5" y1="910.5" x2="1015.5" y2="910.5"/>
</g>
<path class="ring" d="M538.0,114.10000000000002 A428.9,428.9 0 1 0 538.0,971.9 A428.9,428.9 0 1 0 538.0,114.10000000000002"/>
<path class="ring" d="M538.0,329.1 A214.4,214.4 0 1 0 538.0,757.9 A214.4,214.4 0 1 0 538.0,329.1"/>
<text class="lbl" x="302.5" y="115">16 km</text>
<text class="lbl" x="423" y="309.8">8 km</text>
</g>
<rect x="85.5" y="45.5" width="930.0" height="983.9000000000001" fill="none" stroke="#000" stroke-width="1.1"/>
<text x="550.7" y="38.1" text-anchor="middle" font-size="34.8">14.11.2025 13:33 UTC</text>
<text class="tk" transform="translate(143.5,1051.2) scale(0.972,1.06)" text-anchor="middle">6°E</text>
<text class="tk" transform="translate(337.5,1051.2) scale(0.972,1.06)" text-anchor="middle">6.1°E</text>
<text class="tk" transform="translate(531.5,1051.2) scale(0.972,1.06)" text-anchor="middle">6.2°E</text>
<text class="tk" transform="translate(724.5,1051.2) scale(0.972,1.06)" text-anchor="middle">6.3°E</text>
<text class="tk" transform="translate(918.5,1051.2) scale(0.972,1.06)" text-anchor="middle">6.4°E</text>
<text class="tk" transform="translate(77.9,170.1) scale(0.972,1.06)" text-anchor="end">49.75°N</text>
<text class="tk" transform="translate(77.9,320.1) scale(0.972,1.06)" text-anchor="end">49.7°N</text>
<text class="tk" transform="translate(77.9,469.1) scale(0.972,1.06)" text-anchor="end">49.65°N</text>
<text class="tk" transform="translate(77.9,618.1) scale(0.972,1.06)" text-anchor="end">49.6°N</text>
<text class="tk" transform="translate(77.9,767.1) scale(0.972,1.06)" text-anchor="end">49.55°N</text>
<text class="tk" transform="translate(77.9,916.1) scale(0.972,1.06)" text-anchor="end">49.5°N</text>
<rect x="1073.5" y="954.83" width="45.09999999999991" height="32.77" fill="#6674a8"/>
<rect x="1073.5" y="922.65" width="45.09999999999991" height="32.77" fill="#5568a2"/>
<rect x="1073.5" y="890.48" width="45.09999999999991" height="32.77" fill="#4560a4"/>
<rect x="1073.5" y="858.30" width="45.09999999999991" height="32.77" fill="#4a7cb4"/>
<rect x="1073.5" y="826.12" width="45.09999999999991" height="32.77" fill="#589ec8"/>
<rect x="1073.5" y="793.95" width="45.09999999999991" height="32.77" fill="#64bfdc"/>
<rect x="1073.5" y="761.78" width="45.09999999999991" height="32.77" fill="#62d6c4"/>
<rect x="1073.5" y="729.60" width="45.09999999999991" height="32.77" fill="#3cd66c"/>
<rect x="1073.5" y="697.43" width="45.09999999999991" height="32.77" fill="#12c81a"/>
<rect x="1073.5" y="665.25" width="45.09999999999991" height="32.77" fill="#10b61c"/>
<rect x="1073.5" y="633.08" width="45.09999999999991" height="32.77" fill="#0fa61c"/>
<rect x="1073.5" y="600.90" width="45.09999999999991" height="32.77" fill="#0c9416"/>
<rect x="1073.5" y="568.73" width="45.09999999999991" height="32.77" fill="#0a7a10"/>
<rect x="1073.5" y="536.55" width="45.09999999999991" height="32.77" fill="#066010"/>
<rect x="1073.5" y="504.38" width="45.09999999999991" height="32.77" fill="#447a0a"/>
<rect x="1073.5" y="472.20" width="45.09999999999991" height="32.77" fill="#b0b00a"/>
<rect x="1073.5" y="440.02" width="45.09999999999991" height="32.77" fill="#ffd800"/>
<rect x="1073.5" y="407.85" width="45.09999999999991" height="32.77" fill="#ffb400"/>
<rect x="1073.5" y="375.67" width="45.09999999999991" height="32.77" fill="#ff9800"/>
<rect x="1073.5" y="343.50" width="45.09999999999991" height="32.77" fill="#ff7c00"/>
<rect x="1073.5" y="311.32" width="45.09999999999991" height="32.77" fill="#e40000"/>
<rect x="1073.5" y="279.15" width="45.09999999999991" height="32.77" fill="#c00000"/>
<rect x="1073.5" y="246.98" width="45.09999999999991" height="32.77" fill="#a00000"/>
<rect x="1073.5" y="214.80" width="45.09999999999991" height="32.77" fill="#780000"/>
<rect x="1073.5" y="182.62" width="45.09999999999991" height="32.77" fill="#ffdcff"/>
<rect x="1073.5" y="150.45" width="45.09999999999991" height="32.77" fill="#ffb0ff"/>
<rect x="1073.5" y="118.28" width="45.09999999999991" height="32.77" fill="#ff6aff"/>
<rect x="1073.5" y="86.10" width="45.09999999999991" height="32.77" fill="#ee32ee"/>
<rect x="1073.5" y="86.4" width="45.09999999999991" height="900.9" fill="none" stroke="#000" stroke-width="1.1"/>
<line x1="1118.6" y1="987.30" x2="1123.5" y2="987.30" stroke="#000" stroke-width="1.1"/>
<text class="cb" x="1127.2" y="998.50">0</text>
<line x1="1118.6" y1="858.60" x2="1123.5" y2="858.60" stroke="#000" stroke-width="1.1"/>
<text class="cb" x="1127.2" y="869.80">10</text>
<line x1="1118.6" y1="729.90" x2="1123.5" y2="729.90" stroke="#000" stroke-width="1.1"/>
<text class="cb" x="1127.2" y="741.10">20</text>
<line x1="1118.6" y1="601.20" x2="1123.5" y2="601.20" stroke="#000" stroke-width="1.1"/>
<text class="cb" x="1127.2" y="612.40">30</text>
<line x1="1118.6" y1="472.50" x2="1123.5" y2="472.50" stroke="#000" stroke-width="1.1"/>
<text class="cb" x="1127.2" y="483.70">40</text>
<line x1="1118.6" y1="343.80" x2="1123.5" y2="343.80" stroke="#000" stroke-width="1.1"/>
<text class="cb" x="1127.2" y="355.00">50</text>
<line x1="1118.6" y1="215.10" x2="1123.5" y2="215.10" stroke="#000" stroke-width="1.1"/>
<text class="cb" x="1127.2" y="226.30">60</text>
<line x1="1118.6" y1="86.40" x2="1123.5" y2="86.40" stroke="#000" stroke-width="1.1"/>
<text class="cb" x="1127.2" y="97.60">70</text>
<text class="cb" transform="translate(1191.6,539) rotate(-90)" text-anchor="middle">dBZ</text>
</svg>
</body>
</html>
